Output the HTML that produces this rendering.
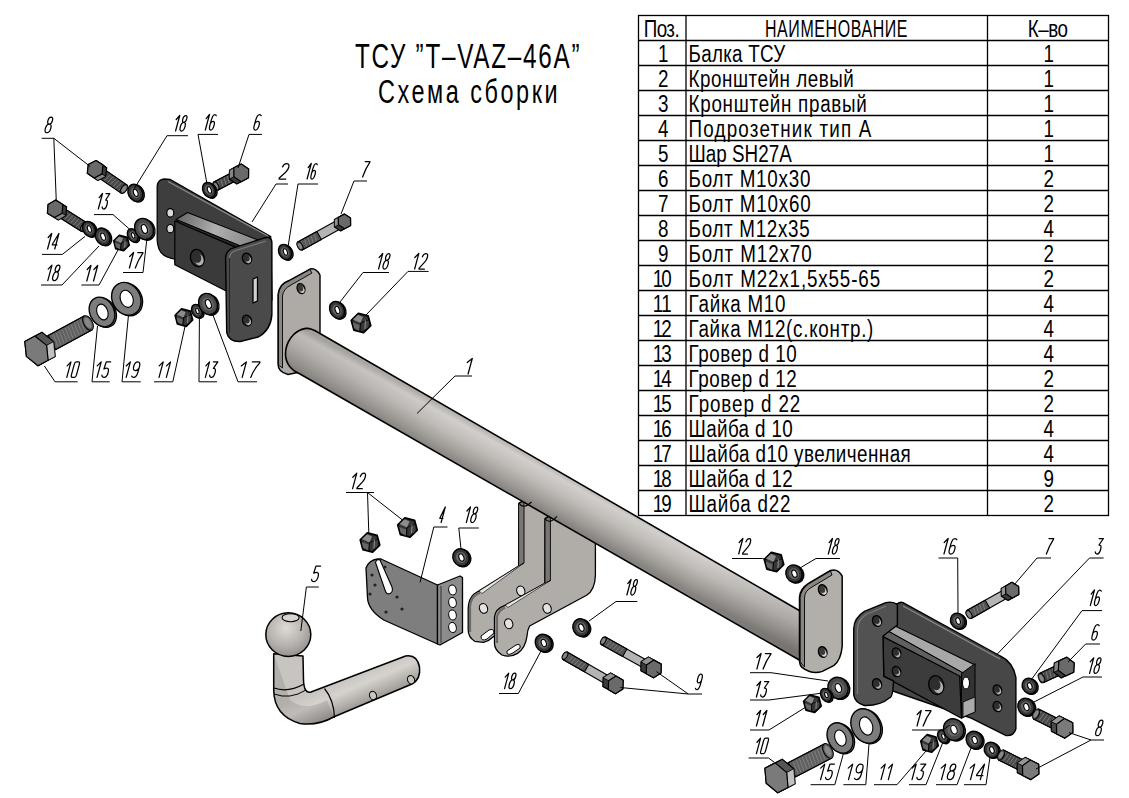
<!DOCTYPE html>
<html><head><meta charset="utf-8"><style>
html,body{margin:0;padding:0;background:#fff;width:1129px;height:798px;overflow:hidden}
svg{display:block}
</style></head><body>
<svg width="1129" height="798" viewBox="0 0 1129 798">
<defs>
<linearGradient id="tubeG" gradientUnits="userSpaceOnUse" x1="551" y1="466" x2="530" y2="504">
<stop offset="0" stop-color="#b4b0ac"/><stop offset="0.15" stop-color="#d2cecb"/><stop offset="0.45" stop-color="#c0bcb8"/><stop offset="0.8" stop-color="#9e9a96"/><stop offset="1" stop-color="#878380"/>
</linearGradient>
<linearGradient id="tubeL" gradientUnits="userSpaceOnUse" x1="290" y1="340" x2="800" y2="630">
<stop offset="0" stop-color="#000" stop-opacity="0.10"/><stop offset="0.3" stop-color="#000" stop-opacity="0"/><stop offset="0.8" stop-color="#000" stop-opacity="0"/><stop offset="1" stop-color="#000" stop-opacity="0.12"/>
</linearGradient>
<linearGradient id="chanTopL" gradientUnits="userSpaceOnUse" x1="180" y1="215" x2="250" y2="243">
<stop offset="0" stop-color="#6a6a6a"/><stop offset="0.5" stop-color="#b0b0b0"/><stop offset="1" stop-color="#8a8a8a"/>
</linearGradient>
<linearGradient id="chanTopR" gradientUnits="userSpaceOnUse" x1="890" y1="624" x2="970" y2="668">
<stop offset="0" stop-color="#7a7a7a"/><stop offset="0.5" stop-color="#b8b8b8"/><stop offset="1" stop-color="#9a9a9a"/>
</linearGradient>
<radialGradient id="ballG" cx="0.45" cy="0.35" r="0.7">
<stop offset="0" stop-color="#dedad6"/><stop offset="0.6" stop-color="#b4b0ac"/><stop offset="1" stop-color="#8e8a86"/>
</radialGradient>
<linearGradient id="barG" gradientUnits="userSpaceOnUse" x1="360" y1="672" x2="372" y2="700">
<stop offset="0" stop-color="#c8c4c0"/><stop offset="0.4" stop-color="#d6d2ce"/><stop offset="1" stop-color="#a09c98"/>
</linearGradient>
<linearGradient id="neckG" gradientUnits="userSpaceOnUse" x1="273" y1="0" x2="304" y2="0">
<stop offset="0" stop-color="#a09c98"/><stop offset="0.5" stop-color="#c4c0bc"/><stop offset="1" stop-color="#a8a4a0"/>
</linearGradient>
</defs>
<path d="M157.2,186 Q158,179.5 164,179 L170.3,179.5 L270.7,236.6 L272,300 L175,262 L174.8,259.1 Q162,257 159,249 Q157.2,244 157.2,240 Z" fill="#3e3e3e" stroke="#000" stroke-width="1.3" stroke-linejoin="round" />
<polyline points="168.0,181.5 268.0,236.0" fill="none" stroke="#8a8a8a" stroke-width="1.2" stroke-linejoin="miter"/>
<ellipse cx="170.3" cy="212.9" rx="3.5" ry="4.2" fill="#d8d8d8" stroke="#000" stroke-width="1.2"/>
<ellipse cx="170.3" cy="228.7" rx="3.5" ry="4.2" fill="#d8d8d8" stroke="#000" stroke-width="1.2"/>
<polygon points="176.0,219.5 187.5,212.5 258.0,240.0 244.0,247.5" fill="url(#chanTopL)" stroke="#000" stroke-width="1.1" stroke-linejoin="round" />
<polygon points="176.0,219.5 244.0,247.5 248.0,252.0 180.0,224.0" fill="#2a2a2a" stroke="#000" stroke-width="0.8" stroke-linejoin="round" />
<polygon points="174.8,221.0 236.0,247.5 236.0,296.0 174.8,264.8" fill="#3a3a3a" stroke="#000" stroke-width="1.2" stroke-linejoin="round" />
<ellipse cx="197.4" cy="258.0" rx="6.8" ry="8.8" fill="#2e2e2e" stroke="#000" stroke-width="1.3" transform="rotate(-15.0 197.4 258.0)"/>
<ellipse cx="199.1" cy="259.8" rx="4.4" ry="5.7" fill="#b0b0b0" stroke="none" stroke-width="0" transform="rotate(-15.0 199.1 259.8)"/>
<ellipse cx="197.1" cy="257.6" rx="4.1" ry="5.3" fill="#2e2e2e" stroke="none" stroke-width="0" transform="rotate(-15.0 197.1 257.6)"/>
<path d="M225.6,258 Q226,250 233.5,247.9 L265.1,237.7 Q271.9,236.5 271.9,243 L271.9,314.4 Q271,330 258.3,337 L240.3,341.5 Q229,342 226.7,332.5 Z" fill="#4a4a4a" stroke="#000" stroke-width="1.4" stroke-linejoin="round" />
<path d="M229.5,258 Q230,252 236,250.5 L266,241" fill="none" stroke="#7a7a7a" stroke-width="1.2" stroke-linejoin="round" />
<polyline points="229.5,258.0 229.5,333.0" fill="none" stroke="#222" stroke-width="1.0" stroke-linejoin="miter"/>
<ellipse cx="247.0" cy="258.5" rx="4.5" ry="5.5" fill="#2e2e2e" stroke="#000" stroke-width="1.3" transform="rotate(-20.0 247.0 258.5)"/>
<ellipse cx="248.1" cy="259.6" rx="2.9" ry="3.6" fill="#b0b0b0" stroke="none" stroke-width="0" transform="rotate(-20.0 248.1 259.6)"/>
<ellipse cx="246.8" cy="258.2" rx="2.7" ry="3.3" fill="#2e2e2e" stroke="none" stroke-width="0" transform="rotate(-20.0 246.8 258.2)"/>
<ellipse cx="247.0" cy="320.5" rx="4.5" ry="5.5" fill="#2e2e2e" stroke="#000" stroke-width="1.3" transform="rotate(-20.0 247.0 320.5)"/>
<ellipse cx="248.1" cy="321.6" rx="2.9" ry="3.6" fill="#b0b0b0" stroke="none" stroke-width="0" transform="rotate(-20.0 248.1 321.6)"/>
<ellipse cx="246.8" cy="320.2" rx="2.7" ry="3.3" fill="#2e2e2e" stroke="none" stroke-width="0" transform="rotate(-20.0 246.8 320.2)"/>
<polygon points="253.0,279.0 257.5,277.0 257.5,301.0 253.0,303.0" fill="#d0d0d0" stroke="#000" stroke-width="1.3" stroke-linejoin="round" />
<path d="M278,294.6 Q279,284 289,280.5 L310,269 Q316,267.5 320,275 L320,336 L300,372 L288,374.5 Q278,372 278,364 Z" fill="#aeaaa6" stroke="#000" stroke-width="1.4" stroke-linejoin="round" />
<path d="M278.5,365 L278.5,294.6 Q279.5,284.5 289,281 L310,269.5 L312,273 L291,285 Q283,289 282.5,296 L282.5,368 Z" fill="#8a8682" stroke="#000" stroke-width="0.9" stroke-linejoin="round" />
<ellipse cx="301.0" cy="288.6" rx="3.8" ry="5.2" fill="#3a3a3a" stroke="#000" stroke-width="1.3" transform="rotate(-20.0 301.0 288.6)"/>
<ellipse cx="301.9" cy="289.6" rx="2.5" ry="3.4" fill="#d0d0d0" stroke="none" stroke-width="0" transform="rotate(-20.0 301.9 289.6)"/>
<ellipse cx="300.8" cy="288.3" rx="2.3" ry="3.1" fill="#3a3a3a" stroke="none" stroke-width="0" transform="rotate(-20.0 300.8 288.3)"/>
<path d="M519,503 L525,499.5 L531.5,502 L560,520 L560,590 L493,637 Q489,641 483.5,642.4 L474.7,641.3 Q468.2,637 468.2,630 L468.2,608.4 Q468.5,599 474,594 L479.1,590.9 L518.6,566 Z" fill="#b0aca8" stroke="#000" stroke-width="1.3" stroke-linejoin="round" />
<polygon points="518.6,503.5 524.0,501.0 524.0,563.0 518.6,566.0" fill="#7a7673" stroke="#000" stroke-width="0.9" stroke-linejoin="round" />
<path d="M470,632 L470,606 Q471,597 478,593.5 L480,593" fill="none" stroke="#6e6a66" stroke-width="2.2" stroke-linejoin="round" />
<polygon points="479.0,591.0 518.6,566.0 524.0,563.0 482.0,593.5" fill="#e8e6e4" stroke="#000" stroke-width="0.6" stroke-linejoin="round" />
<ellipse cx="483.5" cy="608.4" rx="4.0" ry="5.0" fill="#e4e4e4" stroke="#000" stroke-width="1.1" transform="rotate(-20.0 483.5 608.4)"/>
<ellipse cx="520.8" cy="590.9" rx="4.0" ry="5.0" fill="#e4e4e4" stroke="#000" stroke-width="1.1" transform="rotate(-20.0 520.8 590.9)"/>
<path d="M481,636 L489,630 Q494,628 494,633 L487,639 Q481,642 481,636 Z" fill="#fff" stroke="#000" stroke-width="1.0" stroke-linejoin="round" />
<path d="M545,518.5 L551.5,514 L557,516.3 L595.4,540 L595.4,575.5 Q595,590 586.6,595.3 L529.6,626 Q527.4,630 527,636 Q525.5,648 517.5,653.4 Q510,658 502,655 Q494.5,650 494.5,643.5 L494.5,617.2 Q495,609 505.4,605.1 L544.9,583.2 Z" fill="#b0aca8" stroke="#000" stroke-width="1.3" stroke-linejoin="round" />
<polygon points="545.0,519.0 550.4,516.0 550.4,580.5 545.0,583.5" fill="#7a7673" stroke="#000" stroke-width="0.9" stroke-linejoin="round" />
<path d="M497,643 L497,617 Q498,611 505,607.5" fill="none" stroke="#6e6a66" stroke-width="2.2" stroke-linejoin="round" />
<polygon points="505.4,605.1 544.9,583.2 550.4,580.5 508.0,607.5" fill="#e8e6e4" stroke="#000" stroke-width="0.6" stroke-linejoin="round" />
<ellipse cx="508.7" cy="623.8" rx="4.0" ry="5.0" fill="#e4e4e4" stroke="#000" stroke-width="1.1" transform="rotate(-20.0 508.7 623.8)"/>
<ellipse cx="547.1" cy="608.4" rx="4.0" ry="5.0" fill="#e4e4e4" stroke="#000" stroke-width="1.1" transform="rotate(-20.0 547.1 608.4)"/>
<path d="M507,651 L516,645 Q521,643 520,648 L512,653.5 Q506,656 507,651 Z" fill="#fff" stroke="#000" stroke-width="1.0" stroke-linejoin="round" />
<path d="M320,333.5 L801,611.5 L801,661 L300,374 C292,371 285.5,364 285.5,354 C285.5,342 294,330 306,328.4 C311,327.8 315,330.5 320,333.5 Z" fill="url(#tubeG)" stroke="#000" stroke-width="1.6" stroke-linejoin="round" />
<path d="M320,333.5 L801,611.5 L801,661 L300,374 C292,371 285.5,364 285.5,354 C285.5,342 294,330 306,328.4 C311,327.8 315,330.5 320,333.5 Z" fill="url(#tubeL)" stroke="none" stroke-width="0" stroke-linejoin="round" />
<path d="M519,503 Q523,510 531.5,502" fill="none" stroke="#000" stroke-width="1.1" stroke-linejoin="round" />
<path d="M545,518.5 Q549,525 557,516.3" fill="none" stroke="#000" stroke-width="1.1" stroke-linejoin="round" />
<path d="M799.5,597.3 Q800,589 808.5,583.5 L830.5,570.5 Q838,568 842.2,576.2 L842.2,646.2 Q841,660 833.7,665.7 L822.3,671.4 Q812,675 802,667.4 Q799.5,665 799.5,660 Z" fill="#b2aea9" stroke="#000" stroke-width="1.5" stroke-linejoin="round" />
<path d="M800.2,662 L800.2,597.3 Q801,589.5 808.5,584 L830.5,571 L832,575 L812,587 Q804.5,591 804.5,598 L804.5,667 Z" fill="#8a8682" stroke="#000" stroke-width="0.9" stroke-linejoin="round" />
<ellipse cx="822.7" cy="590.0" rx="4.2" ry="5.5" fill="#3a3a3a" stroke="#000" stroke-width="1.3" transform="rotate(-20.0 822.7 590.0)"/>
<ellipse cx="823.8" cy="591.1" rx="2.7" ry="3.6" fill="#d0d0d0" stroke="none" stroke-width="0" transform="rotate(-20.0 823.8 591.1)"/>
<ellipse cx="822.5" cy="589.7" rx="2.5" ry="3.3" fill="#3a3a3a" stroke="none" stroke-width="0" transform="rotate(-20.0 822.5 589.7)"/>
<ellipse cx="822.7" cy="652.0" rx="4.2" ry="5.5" fill="#3a3a3a" stroke="#000" stroke-width="1.3" transform="rotate(-20.0 822.7 652.0)"/>
<ellipse cx="823.8" cy="653.1" rx="2.7" ry="3.6" fill="#d0d0d0" stroke="none" stroke-width="0" transform="rotate(-20.0 823.8 653.1)"/>
<ellipse cx="822.5" cy="651.7" rx="2.5" ry="3.3" fill="#3a3a3a" stroke="none" stroke-width="0" transform="rotate(-20.0 822.5 651.7)"/>
<path d="M366,568 Q369,560 377.5,559 L381,559 L437.5,585 L437.5,644 L383.75,620 Q368,610 367.5,597.5 Z" fill="#7e7e7e" stroke="#000" stroke-width="1.3" stroke-linejoin="round" />
<path d="M375.5,562.5 Q377,558.5 380,560 L392,587 Q393.5,592 390,593.5 Q386.5,595 385,590 Z" fill="#fff" stroke="#000" stroke-width="1.1" stroke-linejoin="round" />
<circle cx="372" cy="575" r="1.6" fill="#222"/>
<circle cx="385" cy="567" r="1.6" fill="#222"/>
<circle cx="370" cy="594" r="1.6" fill="#222"/>
<circle cx="397" cy="597" r="1.6" fill="#222"/>
<circle cx="386" cy="612" r="1.6" fill="#222"/>
<circle cx="402" cy="609" r="1.6" fill="#222"/>
<circle cx="375" cy="585" r="1.6" fill="#222"/>
<polygon points="437.5,585.0 460.0,576.0 462.5,577.5 462.5,632.5 440.0,645.0 437.5,644.0" fill="#8c8c8c" stroke="#000" stroke-width="1.3" stroke-linejoin="round" />
<polyline points="441.0,586.0 441.0,643.0" fill="none" stroke="#333" stroke-width="1.0" stroke-linejoin="miter"/>
<ellipse cx="452.5" cy="590.0" rx="3.8" ry="5.0" fill="#fff" stroke="#000" stroke-width="1.0" transform="rotate(-10.0 452.5 590.0)"/>
<ellipse cx="452.5" cy="602.5" rx="3.8" ry="5.0" fill="#fff" stroke="#000" stroke-width="1.0" transform="rotate(-10.0 452.5 602.5)"/>
<ellipse cx="452.5" cy="615.0" rx="3.8" ry="5.0" fill="#fff" stroke="#000" stroke-width="1.0" transform="rotate(-10.0 452.5 615.0)"/>
<ellipse cx="452.5" cy="627.5" rx="3.8" ry="5.0" fill="#fff" stroke="#000" stroke-width="1.0" transform="rotate(-10.0 452.5 627.5)"/>
<path d="M273.7,653.8 L273.7,690 Q274,716 300,723.5 Q318,726 333.5,717 L412,684 Q421,679 419.5,667 Q417,654 405.6,656 L311,692 Q304,694 303.5,680 L303,656 Z" fill="url(#barG)" stroke="#000" stroke-width="1.5" stroke-linejoin="round" />
<path d="M273.7,653.8 L273.7,690 Q274,716 300,723.5 Q318,726 333.5,717 L327,700 Q305,712 290,700 Z" fill="#000" stroke="none" stroke-width="0" stroke-linejoin="round" opacity="0.10"/>
<path d="M324.5,688.5 Q334,700 334.5,718" fill="none" stroke="#000" stroke-width="1.2" stroke-linejoin="round" />
<path d="M274,688 Q288,693 304,684" fill="none" stroke="#000" stroke-width="1.2" stroke-linejoin="round" />
<path d="M274,694 Q290,700 306,690" fill="none" stroke="#000" stroke-width="1.0" stroke-linejoin="round" />
<ellipse cx="373.0" cy="695.5" rx="3.5" ry="4.2" fill="#c8c4c0" stroke="#000" stroke-width="1.0" transform="rotate(-20.0 373.0 695.5)"/>
<ellipse cx="411.0" cy="679.7" rx="3.5" ry="4.2" fill="#c8c4c0" stroke="#000" stroke-width="1.0" transform="rotate(-20.0 411.0 679.7)"/>
<ellipse cx="288.3" cy="634.6" rx="22.5" ry="21.8" fill="url(#ballG)" stroke="#000" stroke-width="1.5"/>
<ellipse cx="290.6" cy="617.7" rx="8.5" ry="4.0" fill="#d8d4d0" stroke="#000" stroke-width="1.1"/>
<path d="M897,604 Q900,601.5 903,602.6 L1000.3,656 Q1013,662 1015.9,677.4 L1015.9,728.8 Q1014,736 1006.2,735.6 L971.2,718.2 L890,690 L890,605 Z" fill="#474747" stroke="#000" stroke-width="1.4" stroke-linejoin="round" />
<polyline points="903.0,606.0 1000.0,659.0" fill="none" stroke="#8a8a8a" stroke-width="1.2" stroke-linejoin="miter"/>
<ellipse cx="997.4" cy="690.0" rx="4.2" ry="5.2" fill="#2e2e2e" stroke="#000" stroke-width="1.3" transform="rotate(-20.0 997.4 690.0)"/>
<ellipse cx="998.4" cy="691.0" rx="2.7" ry="3.4" fill="#b0b0b0" stroke="none" stroke-width="0" transform="rotate(-20.0 998.4 691.0)"/>
<ellipse cx="997.2" cy="689.7" rx="2.5" ry="3.1" fill="#2e2e2e" stroke="none" stroke-width="0" transform="rotate(-20.0 997.2 689.7)"/>
<ellipse cx="997.4" cy="706.5" rx="4.2" ry="5.2" fill="#2e2e2e" stroke="#000" stroke-width="1.3" transform="rotate(-20.0 997.4 706.5)"/>
<ellipse cx="998.4" cy="707.5" rx="2.7" ry="3.4" fill="#b0b0b0" stroke="none" stroke-width="0" transform="rotate(-20.0 998.4 707.5)"/>
<ellipse cx="997.2" cy="706.2" rx="2.5" ry="3.1" fill="#2e2e2e" stroke="none" stroke-width="0" transform="rotate(-20.0 997.2 706.2)"/>
<polygon points="890.0,623.5 975.0,665.0 963.0,673.0 887.0,630.5" fill="#a8a8a8" stroke="#000" stroke-width="1.1" stroke-linejoin="round" />
<polygon points="887.0,630.5 963.0,673.0 959.0,679.5 883.5,637.0" fill="#606060" stroke="#000" stroke-width="1.0" stroke-linejoin="round" />
<polygon points="961.5,673.5 975.0,663.5 975.0,712.0 961.5,718.2" fill="#333" stroke="#000" stroke-width="1.0" stroke-linejoin="round" />
<ellipse cx="966.0" cy="683.0" rx="3.5" ry="6.0" fill="#fff" stroke="#000" stroke-width="1"/>
<polygon points="963.0,702.0 975.0,697.0 975.0,712.0 963.0,717.0" fill="#aaa" stroke="#000" stroke-width="0.8" stroke-linejoin="round" />
<polygon points="882.9,636.6 959.6,676.0 961.5,718.2 883.8,676.4" fill="#3c3c3c" stroke="#000" stroke-width="1.2" stroke-linejoin="round" />
<ellipse cx="936.3" cy="685.1" rx="7.5" ry="9.5" fill="#2e2e2e" stroke="#000" stroke-width="1.3" transform="rotate(-15.0 936.3 685.1)"/>
<ellipse cx="938.2" cy="687.0" rx="4.9" ry="6.2" fill="#b0b0b0" stroke="none" stroke-width="0" transform="rotate(-15.0 938.2 687.0)"/>
<ellipse cx="935.9" cy="684.6" rx="4.5" ry="5.7" fill="#2e2e2e" stroke="none" stroke-width="0" transform="rotate(-15.0 935.9 684.6)"/>
<ellipse cx="896.5" cy="653.0" rx="4.2" ry="5.2" fill="#2e2e2e" stroke="#000" stroke-width="1.3" transform="rotate(-20.0 896.5 653.0)"/>
<ellipse cx="897.5" cy="654.0" rx="2.7" ry="3.4" fill="#b0b0b0" stroke="none" stroke-width="0" transform="rotate(-20.0 897.5 654.0)"/>
<ellipse cx="896.3" cy="652.7" rx="2.5" ry="3.1" fill="#2e2e2e" stroke="none" stroke-width="0" transform="rotate(-20.0 896.3 652.7)"/>
<ellipse cx="896.5" cy="671.6" rx="4.2" ry="5.2" fill="#2e2e2e" stroke="#000" stroke-width="1.3" transform="rotate(-20.0 896.5 671.6)"/>
<ellipse cx="897.5" cy="672.6" rx="2.7" ry="3.4" fill="#b0b0b0" stroke="none" stroke-width="0" transform="rotate(-20.0 897.5 672.6)"/>
<ellipse cx="896.3" cy="671.3" rx="2.5" ry="3.1" fill="#2e2e2e" stroke="none" stroke-width="0" transform="rotate(-20.0 896.3 671.3)"/>
<path d="M853.7,628.8 Q854,618 864.4,611.4 L885.8,602.6 Q893,601 897.4,604.6 L897.4,625 L883,636 L883.8,676.4 L893.5,681 Q893,697 889.7,697.8 Q880,706 864.4,705.5 Q855,703 853.7,694.9 Z" fill="#525252" stroke="#000" stroke-width="1.4" stroke-linejoin="round" />
<path d="M857.5,694 L857.5,629 Q858,620 866,614.5 L886,606" fill="none" stroke="#7a7a7a" stroke-width="1.3" stroke-linejoin="round" />
<ellipse cx="877.0" cy="621.0" rx="4.5" ry="5.5" fill="#2e2e2e" stroke="#000" stroke-width="1.3" transform="rotate(-20.0 877.0 621.0)"/>
<ellipse cx="878.1" cy="622.1" rx="2.9" ry="3.6" fill="#b0b0b0" stroke="none" stroke-width="0" transform="rotate(-20.0 878.1 622.1)"/>
<ellipse cx="876.8" cy="620.7" rx="2.7" ry="3.3" fill="#2e2e2e" stroke="none" stroke-width="0" transform="rotate(-20.0 876.8 620.7)"/>
<ellipse cx="877.0" cy="684.0" rx="4.5" ry="5.5" fill="#2e2e2e" stroke="#000" stroke-width="1.3" transform="rotate(-20.0 877.0 684.0)"/>
<ellipse cx="878.1" cy="685.1" rx="2.9" ry="3.6" fill="#b0b0b0" stroke="none" stroke-width="0" transform="rotate(-20.0 878.1 685.1)"/>
<ellipse cx="876.8" cy="683.7" rx="2.7" ry="3.3" fill="#2e2e2e" stroke="none" stroke-width="0" transform="rotate(-20.0 876.8 683.7)"/>
<polygon points="94.2,174.6 121.2,193.1 126.8,184.9 99.8,166.4" fill="#8a8a8a" stroke="#000" stroke-width="1.1" stroke-linejoin="round" />
<polygon points="98.2,177.4 121.2,193.1 126.8,184.9 103.9,169.2" fill="#4a4a4a" stroke="#000" stroke-width="1.1" stroke-linejoin="round" />
<polyline points="101.7,178.5 107.4,172.8" fill="none" stroke="#8e8e8e" stroke-width="0.7" stroke-linejoin="miter"/>
<polyline points="104.5,180.5 110.3,174.8" fill="none" stroke="#8e8e8e" stroke-width="0.7" stroke-linejoin="miter"/>
<polyline points="107.4,182.5 113.2,176.7" fill="none" stroke="#8e8e8e" stroke-width="0.7" stroke-linejoin="miter"/>
<polyline points="110.3,184.4 116.0,178.7" fill="none" stroke="#8e8e8e" stroke-width="0.7" stroke-linejoin="miter"/>
<polyline points="113.1,186.4 118.9,180.7" fill="none" stroke="#8e8e8e" stroke-width="0.7" stroke-linejoin="miter"/>
<polyline points="116.0,188.4 121.8,182.6" fill="none" stroke="#8e8e8e" stroke-width="0.7" stroke-linejoin="miter"/>
<polyline points="118.9,190.3 124.6,184.6" fill="none" stroke="#8e8e8e" stroke-width="0.7" stroke-linejoin="miter"/>
<ellipse cx="124.0" cy="189.0" rx="2.8" ry="5.0" fill="#4a4a4a" stroke="#000" stroke-width="1.0" transform="rotate(34.4 124.0 189.0)"/>
<ellipse cx="124.0" cy="189.0" rx="1.8" ry="3.5" fill="#888" stroke="none" stroke-width="0" transform="rotate(34.4 124.0 189.0)"/>
<polygon points="87.3,173.3 88.3,164.5 96.1,160.5 103.0,165.1 106.7,167.7 105.7,176.5 97.9,180.5 94.2,178.0" fill="#3a3a3a" stroke="#000" stroke-width="1.2" stroke-linejoin="round" />
<polyline points="94.2,178.0 97.9,180.5" fill="none" stroke="#000" stroke-width="0.8" stroke-linejoin="miter"/>
<polyline points="102.0,173.9 105.7,176.5" fill="none" stroke="#000" stroke-width="0.8" stroke-linejoin="miter"/>
<polyline points="103.0,165.1 106.7,167.7" fill="none" stroke="#000" stroke-width="0.8" stroke-linejoin="miter"/>
<polyline points="96.1,160.5 99.8,163.0" fill="none" stroke="#000" stroke-width="0.8" stroke-linejoin="miter"/>
<polyline points="88.3,164.5 92.0,167.1" fill="none" stroke="#000" stroke-width="0.8" stroke-linejoin="miter"/>
<polyline points="87.3,173.3 91.0,175.9" fill="none" stroke="#000" stroke-width="0.8" stroke-linejoin="miter"/>
<polygon points="94.2,178.0 102.0,173.9 105.7,176.5 97.9,180.5" fill="#9a9a9a" stroke="#000" stroke-width="0.7" stroke-linejoin="round" opacity="0.8"/>
<polygon points="94.2,178.0 102.0,173.9 103.0,165.1 96.1,160.5 88.3,164.5 87.3,173.3" fill="#6a6a6a" stroke="#000" stroke-width="1.2" stroke-linejoin="round" />
<ellipse cx="136.9" cy="193.4" rx="7.0" ry="9.0" fill="#383838" stroke="#000" stroke-width="1.3" transform="rotate(-28.0 136.9 193.4)"/>
<ellipse cx="135.3" cy="192.8" rx="7.0" ry="9.0" fill="#383838" stroke="#000" stroke-width="1.4" transform="rotate(-28.0 135.3 192.8)"/>
<ellipse cx="135.3" cy="192.8" rx="4.3" ry="5.6" fill="#666" stroke="none" stroke-width="0" transform="rotate(-28.0 135.3 192.8)"/>
<ellipse cx="135.7" cy="192.8" rx="2.1" ry="3.8" fill="#fff" stroke="#000" stroke-width="1.1" transform="rotate(-20.0 135.7 192.8)"/>
<polygon points="54.3,214.2 81.3,231.2 86.7,222.8 59.7,205.8" fill="#8a8a8a" stroke="#000" stroke-width="1.1" stroke-linejoin="round" />
<polygon points="58.4,216.8 81.3,231.2 86.7,222.8 63.7,208.3" fill="#4a4a4a" stroke="#000" stroke-width="1.1" stroke-linejoin="round" />
<polyline points="61.8,217.7 67.3,211.8" fill="none" stroke="#8e8e8e" stroke-width="0.7" stroke-linejoin="miter"/>
<polyline points="64.7,219.5 70.2,213.6" fill="none" stroke="#8e8e8e" stroke-width="0.7" stroke-linejoin="miter"/>
<polyline points="67.5,221.4 73.1,215.4" fill="none" stroke="#8e8e8e" stroke-width="0.7" stroke-linejoin="miter"/>
<polyline points="70.4,223.2 75.9,217.2" fill="none" stroke="#8e8e8e" stroke-width="0.7" stroke-linejoin="miter"/>
<polyline points="73.3,225.0 78.8,219.0" fill="none" stroke="#8e8e8e" stroke-width="0.7" stroke-linejoin="miter"/>
<polyline points="76.1,226.8 81.7,220.8" fill="none" stroke="#8e8e8e" stroke-width="0.7" stroke-linejoin="miter"/>
<polyline points="79.0,228.6 84.5,222.6" fill="none" stroke="#8e8e8e" stroke-width="0.7" stroke-linejoin="miter"/>
<ellipse cx="84.0" cy="227.0" rx="2.8" ry="5.0" fill="#4a4a4a" stroke="#000" stroke-width="1.0" transform="rotate(32.2 84.0 227.0)"/>
<ellipse cx="84.0" cy="227.0" rx="1.8" ry="3.5" fill="#888" stroke="none" stroke-width="0" transform="rotate(32.2 84.0 227.0)"/>
<polygon points="47.4,213.2 48.1,204.4 55.7,200.0 62.8,204.4 66.6,206.8 65.9,215.6 58.3,220.0 51.2,215.6" fill="#3a3a3a" stroke="#000" stroke-width="1.2" stroke-linejoin="round" />
<polyline points="54.4,217.6 58.3,220.0" fill="none" stroke="#000" stroke-width="0.8" stroke-linejoin="miter"/>
<polyline points="62.1,213.2 65.9,215.6" fill="none" stroke="#000" stroke-width="0.8" stroke-linejoin="miter"/>
<polyline points="62.8,204.4 66.6,206.8" fill="none" stroke="#000" stroke-width="0.8" stroke-linejoin="miter"/>
<polyline points="55.7,200.0 59.6,202.4" fill="none" stroke="#000" stroke-width="0.8" stroke-linejoin="miter"/>
<polyline points="48.1,204.4 51.9,206.8" fill="none" stroke="#000" stroke-width="0.8" stroke-linejoin="miter"/>
<polyline points="47.4,213.2 51.2,215.6" fill="none" stroke="#000" stroke-width="0.8" stroke-linejoin="miter"/>
<polygon points="54.4,217.6 62.1,213.2 65.9,215.6 58.3,220.0" fill="#9a9a9a" stroke="#000" stroke-width="0.7" stroke-linejoin="round" opacity="0.8"/>
<polygon points="54.4,217.6 62.1,213.2 62.8,204.4 55.7,200.0 48.1,204.4 47.4,213.2" fill="#6a6a6a" stroke="#000" stroke-width="1.2" stroke-linejoin="round" />
<ellipse cx="90.6" cy="229.6" rx="6.0" ry="8.0" fill="#383838" stroke="#000" stroke-width="1.3" transform="rotate(-28.0 90.6 229.6)"/>
<ellipse cx="89.0" cy="229.0" rx="6.0" ry="8.0" fill="#383838" stroke="#000" stroke-width="1.4" transform="rotate(-28.0 89.0 229.0)"/>
<ellipse cx="89.0" cy="229.0" rx="3.7" ry="5.0" fill="#666" stroke="none" stroke-width="0" transform="rotate(-28.0 89.0 229.0)"/>
<ellipse cx="89.4" cy="229.0" rx="1.8" ry="3.4" fill="#fff" stroke="#000" stroke-width="1.1" transform="rotate(-20.0 89.4 229.0)"/>
<ellipse cx="104.3" cy="237.3" rx="7.0" ry="9.0" fill="#383838" stroke="#000" stroke-width="1.3" transform="rotate(-28.0 104.3 237.3)"/>
<ellipse cx="102.7" cy="236.7" rx="7.0" ry="9.0" fill="#383838" stroke="#000" stroke-width="1.4" transform="rotate(-28.0 102.7 236.7)"/>
<ellipse cx="102.7" cy="236.7" rx="4.3" ry="5.6" fill="#666" stroke="none" stroke-width="0" transform="rotate(-28.0 102.7 236.7)"/>
<ellipse cx="103.1" cy="236.7" rx="2.1" ry="3.8" fill="#fff" stroke="#000" stroke-width="1.1" transform="rotate(-20.0 103.1 236.7)"/>
<polygon points="129.2,245.1 123.6,250.7 115.8,248.7 113.8,240.9 119.4,235.3 127.2,237.3" fill="#353535" stroke="#000" stroke-width="1.8" stroke-linejoin="round" />
<polygon points="115.1,240.2 119.1,236.4 123.1,238.2 121.1,243.0" fill="#8c8c8c" stroke="none" stroke-width="0" stroke-linejoin="round" />
<polygon points="114.9,242.6 120.7,244.8 120.3,249.6 115.9,247.0" fill="#666" stroke="none" stroke-width="0" stroke-linejoin="round" />
<polygon points="123.9,239.4 127.7,241.4 127.1,246.6 123.5,248.6" fill="#444" stroke="none" stroke-width="0" stroke-linejoin="round" />
<polyline points="121.1,243.0 120.5,249.8" fill="none" stroke="#000" stroke-width="1.0" stroke-linejoin="miter"/>
<polyline points="121.1,243.0 127.5,240.6" fill="none" stroke="#000" stroke-width="0.8" stroke-linejoin="miter"/>
<polyline points="125.1,241.0 124.7,247.8" fill="none" stroke="#999" stroke-width="0.8" stroke-linejoin="miter"/>
<ellipse cx="134.4" cy="236.0" rx="5.0" ry="7.0" fill="#383838" stroke="#000" stroke-width="1.3" transform="rotate(-28.0 134.4 236.0)"/>
<ellipse cx="132.8" cy="235.4" rx="5.0" ry="7.0" fill="#383838" stroke="#000" stroke-width="1.4" transform="rotate(-28.0 132.8 235.4)"/>
<ellipse cx="132.8" cy="235.4" rx="3.1" ry="4.3" fill="#666" stroke="none" stroke-width="0" transform="rotate(-28.0 132.8 235.4)"/>
<ellipse cx="133.2" cy="235.4" rx="1.5" ry="2.9" fill="#fff" stroke="#000" stroke-width="1.1" transform="rotate(-20.0 133.2 235.4)"/>
<ellipse cx="145.6" cy="229.6" rx="9.0" ry="11.0" fill="#4a4a4a" stroke="#000" stroke-width="1.3" transform="rotate(-28.0 145.6 229.6)"/>
<ellipse cx="144.0" cy="229.0" rx="9.0" ry="11.0" fill="#4a4a4a" stroke="#000" stroke-width="1.4" transform="rotate(-28.0 144.0 229.0)"/>
<ellipse cx="144.0" cy="229.0" rx="5.6" ry="6.8" fill="#666" stroke="none" stroke-width="0" transform="rotate(-28.0 144.0 229.0)"/>
<ellipse cx="144.4" cy="229.0" rx="2.7" ry="4.6" fill="#fff" stroke="#000" stroke-width="1.1" transform="rotate(-20.0 144.4 229.0)"/>
<polygon points="43.8,356.0 91.8,330.0 84.2,316.0 36.2,342.0" fill="#bbb" stroke="#000" stroke-width="1.1" stroke-linejoin="round" />
<polygon points="55.8,349.5 91.8,330.0 84.2,316.0 48.2,335.5" fill="#606060" stroke="#000" stroke-width="1.1" stroke-linejoin="round" />
<polyline points="58.0,346.5 53.3,334.5" fill="none" stroke="#8e8e8e" stroke-width="0.7" stroke-linejoin="miter"/>
<polyline points="61.0,344.9 56.3,332.9" fill="none" stroke="#8e8e8e" stroke-width="0.7" stroke-linejoin="miter"/>
<polyline points="64.0,343.3 59.3,331.3" fill="none" stroke="#8e8e8e" stroke-width="0.7" stroke-linejoin="miter"/>
<polyline points="67.0,341.6 62.3,329.7" fill="none" stroke="#8e8e8e" stroke-width="0.7" stroke-linejoin="miter"/>
<polyline points="70.0,340.0 65.3,328.0" fill="none" stroke="#8e8e8e" stroke-width="0.7" stroke-linejoin="miter"/>
<polyline points="73.0,338.4 68.3,326.4" fill="none" stroke="#8e8e8e" stroke-width="0.7" stroke-linejoin="miter"/>
<polyline points="76.0,336.8 71.3,324.8" fill="none" stroke="#8e8e8e" stroke-width="0.7" stroke-linejoin="miter"/>
<polyline points="79.0,335.1 74.3,323.2" fill="none" stroke="#8e8e8e" stroke-width="0.7" stroke-linejoin="miter"/>
<polyline points="82.0,333.5 77.3,321.5" fill="none" stroke="#8e8e8e" stroke-width="0.7" stroke-linejoin="miter"/>
<polyline points="85.0,331.9 80.3,319.9" fill="none" stroke="#8e8e8e" stroke-width="0.7" stroke-linejoin="miter"/>
<polyline points="88.0,330.3 83.3,318.3" fill="none" stroke="#8e8e8e" stroke-width="0.7" stroke-linejoin="miter"/>
<ellipse cx="88.0" cy="323.0" rx="4.4" ry="8.0" fill="#606060" stroke="#000" stroke-width="1.0" transform="rotate(-28.4 88.0 323.0)"/>
<ellipse cx="88.0" cy="323.0" rx="2.8" ry="5.6" fill="#888" stroke="none" stroke-width="0" transform="rotate(-28.4 88.0 323.0)"/>
<polygon points="24.8,341.5 31.9,337.7 42.0,332.2 53.6,341.6 55.2,356.5 48.1,360.3 38.0,365.8 26.4,356.4" fill="#555" stroke="#000" stroke-width="1.2" stroke-linejoin="round" />
<polyline points="48.1,360.3 55.2,356.5" fill="none" stroke="#000" stroke-width="0.8" stroke-linejoin="miter"/>
<polyline points="46.6,345.4 53.6,341.6" fill="none" stroke="#000" stroke-width="0.8" stroke-linejoin="miter"/>
<polyline points="34.9,336.0 42.0,332.2" fill="none" stroke="#000" stroke-width="0.8" stroke-linejoin="miter"/>
<polyline points="24.8,341.5 31.9,337.7" fill="none" stroke="#000" stroke-width="0.8" stroke-linejoin="miter"/>
<polyline points="26.4,356.4 33.4,352.6" fill="none" stroke="#000" stroke-width="0.8" stroke-linejoin="miter"/>
<polyline points="38.0,365.8 45.1,362.0" fill="none" stroke="#000" stroke-width="0.8" stroke-linejoin="miter"/>
<polygon points="48.1,360.3 46.6,345.4 53.6,341.6 55.2,356.5" fill="#ddd" stroke="#000" stroke-width="0.7" stroke-linejoin="round" opacity="0.8"/>
<polygon points="48.1,360.3 46.6,345.4 34.9,336.0 24.8,341.5 26.4,356.4 38.0,365.8" fill="#7a7a7a" stroke="#000" stroke-width="1.2" stroke-linejoin="round" />
<ellipse cx="103.6" cy="312.6" rx="12.0" ry="15.5" fill="#7c7c7c" stroke="#000" stroke-width="1.3" transform="rotate(-28.0 103.6 312.6)"/>
<ellipse cx="102.0" cy="312.0" rx="12.0" ry="15.5" fill="#7c7c7c" stroke="#000" stroke-width="1.4" transform="rotate(-28.0 102.0 312.0)"/>
<ellipse cx="102.4" cy="312.0" rx="5.4" ry="8.1" fill="#fff" stroke="#000" stroke-width="1.1" transform="rotate(-20.0 102.4 312.0)"/>
<ellipse cx="127.9" cy="299.4" rx="14.0" ry="17.0" fill="#7c7c7c" stroke="#000" stroke-width="1.3" transform="rotate(-28.0 127.9 299.4)"/>
<ellipse cx="126.3" cy="298.8" rx="14.0" ry="17.0" fill="#7c7c7c" stroke="#000" stroke-width="1.4" transform="rotate(-28.0 126.3 298.8)"/>
<ellipse cx="126.7" cy="298.8" rx="6.3" ry="8.8" fill="#fff" stroke="#000" stroke-width="1.1" transform="rotate(-20.0 126.7 298.8)"/>
<polygon points="192.6,319.9 186.2,326.3 177.5,324.0 175.2,315.3 181.6,308.9 190.3,311.2" fill="#353535" stroke="#000" stroke-width="1.8" stroke-linejoin="round" />
<polygon points="176.7,314.5 181.2,310.2 185.7,312.2 183.5,317.6" fill="#8c8c8c" stroke="none" stroke-width="0" stroke-linejoin="round" />
<polygon points="176.5,317.2 183.0,319.6 182.6,325.0 177.6,322.1" fill="#666" stroke="none" stroke-width="0" stroke-linejoin="round" />
<polygon points="186.6,313.6 190.9,315.8 190.2,321.7 186.2,323.9" fill="#444" stroke="none" stroke-width="0" stroke-linejoin="round" />
<polyline points="183.5,317.6 182.8,325.2" fill="none" stroke="#000" stroke-width="1.0" stroke-linejoin="miter"/>
<polyline points="183.5,317.6 190.7,314.9" fill="none" stroke="#000" stroke-width="0.8" stroke-linejoin="miter"/>
<polyline points="188.0,315.4 187.5,323.0" fill="none" stroke="#999" stroke-width="0.8" stroke-linejoin="miter"/>
<ellipse cx="198.6" cy="311.6" rx="5.0" ry="7.0" fill="#383838" stroke="#000" stroke-width="1.3" transform="rotate(-28.0 198.6 311.6)"/>
<ellipse cx="197.0" cy="311.0" rx="5.0" ry="7.0" fill="#383838" stroke="#000" stroke-width="1.4" transform="rotate(-28.0 197.0 311.0)"/>
<ellipse cx="197.0" cy="311.0" rx="3.1" ry="4.3" fill="#666" stroke="none" stroke-width="0" transform="rotate(-28.0 197.0 311.0)"/>
<ellipse cx="197.4" cy="311.0" rx="1.5" ry="2.9" fill="#fff" stroke="#000" stroke-width="1.1" transform="rotate(-20.0 197.4 311.0)"/>
<ellipse cx="209.6" cy="304.6" rx="9.0" ry="11.0" fill="#4a4a4a" stroke="#000" stroke-width="1.3" transform="rotate(-28.0 209.6 304.6)"/>
<ellipse cx="208.0" cy="304.0" rx="9.0" ry="11.0" fill="#4a4a4a" stroke="#000" stroke-width="1.4" transform="rotate(-28.0 208.0 304.0)"/>
<ellipse cx="208.0" cy="304.0" rx="5.6" ry="6.8" fill="#666" stroke="none" stroke-width="0" transform="rotate(-28.0 208.0 304.0)"/>
<ellipse cx="208.4" cy="304.0" rx="2.7" ry="4.6" fill="#fff" stroke="#000" stroke-width="1.1" transform="rotate(-20.0 208.4 304.0)"/>
<polygon points="236.9,170.0 213.9,182.0 218.1,190.0 241.1,178.0" fill="#8a8a8a" stroke="#000" stroke-width="1.1" stroke-linejoin="round" />
<polygon points="233.5,171.8 213.9,182.0 218.1,190.0 237.6,179.8" fill="#4a4a4a" stroke="#000" stroke-width="1.1" stroke-linejoin="round" />
<polyline points="230.6,174.3 232.6,181.4" fill="none" stroke="#8e8e8e" stroke-width="0.7" stroke-linejoin="miter"/>
<polyline points="227.4,176.0 229.4,183.1" fill="none" stroke="#8e8e8e" stroke-width="0.7" stroke-linejoin="miter"/>
<polyline points="224.1,177.7 226.1,184.8" fill="none" stroke="#8e8e8e" stroke-width="0.7" stroke-linejoin="miter"/>
<polyline points="220.9,179.4 222.9,186.5" fill="none" stroke="#8e8e8e" stroke-width="0.7" stroke-linejoin="miter"/>
<polyline points="217.6,181.1 219.6,188.2" fill="none" stroke="#8e8e8e" stroke-width="0.7" stroke-linejoin="miter"/>
<ellipse cx="216.0" cy="186.0" rx="2.5" ry="4.5" fill="#4a4a4a" stroke="#000" stroke-width="1.0" transform="rotate(152.4 216.0 186.0)"/>
<ellipse cx="216.0" cy="186.0" rx="1.6" ry="3.1" fill="#888" stroke="none" stroke-width="0" transform="rotate(152.4 216.0 186.0)"/>
<polygon points="229.4,179.0 229.5,170.2 233.9,167.8 241.3,164.0 248.6,169.0 248.5,177.8 244.1,180.2 236.7,184.0" fill="#3a3a3a" stroke="#000" stroke-width="1.2" stroke-linejoin="round" />
<polyline points="233.9,167.8 229.5,170.2" fill="none" stroke="#000" stroke-width="0.8" stroke-linejoin="miter"/>
<polyline points="233.9,176.7 229.4,179.0" fill="none" stroke="#000" stroke-width="0.8" stroke-linejoin="miter"/>
<polyline points="241.2,181.7 236.7,184.0" fill="none" stroke="#000" stroke-width="0.8" stroke-linejoin="miter"/>
<polyline points="248.5,177.8 244.1,180.2" fill="none" stroke="#000" stroke-width="0.8" stroke-linejoin="miter"/>
<polyline points="248.6,169.0 244.1,171.3" fill="none" stroke="#000" stroke-width="0.8" stroke-linejoin="miter"/>
<polyline points="241.3,164.0 236.8,166.3" fill="none" stroke="#000" stroke-width="0.8" stroke-linejoin="miter"/>
<polygon points="233.9,167.8 233.9,176.7 229.4,179.0 229.5,170.2" fill="#9a9a9a" stroke="#000" stroke-width="0.7" stroke-linejoin="round" opacity="0.8"/>
<polygon points="233.9,167.8 233.9,176.7 241.2,181.7 248.5,177.8 248.6,169.0 241.3,164.0" fill="#6a6a6a" stroke="#000" stroke-width="1.2" stroke-linejoin="round" />
<ellipse cx="210.6" cy="190.6" rx="6.0" ry="8.0" fill="#383838" stroke="#000" stroke-width="1.3" transform="rotate(-28.0 210.6 190.6)"/>
<ellipse cx="209.0" cy="190.0" rx="6.0" ry="8.0" fill="#383838" stroke="#000" stroke-width="1.4" transform="rotate(-28.0 209.0 190.0)"/>
<ellipse cx="209.0" cy="190.0" rx="3.7" ry="5.0" fill="#666" stroke="none" stroke-width="0" transform="rotate(-28.0 209.0 190.0)"/>
<ellipse cx="209.4" cy="190.0" rx="1.8" ry="3.4" fill="#fff" stroke="#000" stroke-width="1.1" transform="rotate(-20.0 209.4 190.0)"/>
<polygon points="340.3,218.6 297.8,242.1 302.2,249.9 344.7,226.4" fill="#b4b4b4" stroke="#000" stroke-width="1.1" stroke-linejoin="round" />
<polygon points="316.9,231.5 297.8,242.1 302.2,249.9 321.3,239.4" fill="#555" stroke="#000" stroke-width="1.1" stroke-linejoin="round" />
<polyline points="314.2,234.0 316.4,241.1" fill="none" stroke="#8e8e8e" stroke-width="0.7" stroke-linejoin="miter"/>
<polyline points="311.0,235.8 313.2,242.8" fill="none" stroke="#8e8e8e" stroke-width="0.7" stroke-linejoin="miter"/>
<polyline points="307.8,237.6 310.0,244.6" fill="none" stroke="#8e8e8e" stroke-width="0.7" stroke-linejoin="miter"/>
<polyline points="304.6,239.3 306.8,246.4" fill="none" stroke="#8e8e8e" stroke-width="0.7" stroke-linejoin="miter"/>
<polyline points="301.4,241.1 303.6,248.1" fill="none" stroke="#8e8e8e" stroke-width="0.7" stroke-linejoin="miter"/>
<ellipse cx="300.0" cy="246.0" rx="2.5" ry="4.5" fill="#555" stroke="#000" stroke-width="1.0" transform="rotate(151.1 300.0 246.0)"/>
<ellipse cx="300.0" cy="246.0" rx="1.6" ry="3.1" fill="#888" stroke="none" stroke-width="0" transform="rotate(151.1 300.0 246.0)"/>
<polygon points="334.4,219.6 340.4,216.2 344.3,214.1 350.5,218.1 350.6,225.4 344.6,228.8 340.7,230.9 334.5,226.9" fill="#3a3a3a" stroke="#000" stroke-width="1.2" stroke-linejoin="round" />
<polyline points="338.3,217.4 334.4,219.6" fill="none" stroke="#000" stroke-width="0.8" stroke-linejoin="miter"/>
<polyline points="338.4,224.8 334.5,226.9" fill="none" stroke="#000" stroke-width="0.8" stroke-linejoin="miter"/>
<polyline points="344.6,228.8 340.7,230.9" fill="none" stroke="#000" stroke-width="0.8" stroke-linejoin="miter"/>
<polyline points="350.6,225.4 346.7,227.6" fill="none" stroke="#000" stroke-width="0.8" stroke-linejoin="miter"/>
<polyline points="350.5,218.1 346.6,220.2" fill="none" stroke="#000" stroke-width="0.8" stroke-linejoin="miter"/>
<polyline points="344.3,214.1 340.4,216.2" fill="none" stroke="#000" stroke-width="0.8" stroke-linejoin="miter"/>
<polygon points="338.3,217.4 338.4,224.8 334.5,226.9 334.4,219.6" fill="#aaa" stroke="#000" stroke-width="0.7" stroke-linejoin="round" opacity="0.8"/>
<polygon points="338.3,217.4 338.4,224.8 344.6,228.8 350.6,225.4 350.5,218.1 344.3,214.1" fill="#6a6a6a" stroke="#000" stroke-width="1.2" stroke-linejoin="round" />
<ellipse cx="286.6" cy="252.6" rx="6.0" ry="8.0" fill="#383838" stroke="#000" stroke-width="1.3" transform="rotate(-28.0 286.6 252.6)"/>
<ellipse cx="285.0" cy="252.0" rx="6.0" ry="8.0" fill="#383838" stroke="#000" stroke-width="1.4" transform="rotate(-28.0 285.0 252.0)"/>
<ellipse cx="285.0" cy="252.0" rx="3.7" ry="5.0" fill="#666" stroke="none" stroke-width="0" transform="rotate(-28.0 285.0 252.0)"/>
<ellipse cx="285.4" cy="252.0" rx="1.8" ry="3.4" fill="#fff" stroke="#000" stroke-width="1.1" transform="rotate(-20.0 285.4 252.0)"/>
<ellipse cx="338.6" cy="310.6" rx="7.0" ry="9.0" fill="#383838" stroke="#000" stroke-width="1.3" transform="rotate(-28.0 338.6 310.6)"/>
<ellipse cx="337.0" cy="310.0" rx="7.0" ry="9.0" fill="#383838" stroke="#000" stroke-width="1.4" transform="rotate(-28.0 337.0 310.0)"/>
<ellipse cx="337.0" cy="310.0" rx="4.3" ry="5.6" fill="#666" stroke="none" stroke-width="0" transform="rotate(-28.0 337.0 310.0)"/>
<ellipse cx="337.4" cy="310.0" rx="2.1" ry="3.8" fill="#fff" stroke="#000" stroke-width="1.1" transform="rotate(-20.0 337.4 310.0)"/>
<polygon points="370.7,325.6 363.6,332.7 353.9,330.1 351.3,320.4 358.4,313.3 368.1,315.9" fill="#353535" stroke="#000" stroke-width="1.8" stroke-linejoin="round" />
<polygon points="353.0,319.5 358.0,314.8 363.0,317.0 360.5,323.0" fill="#8c8c8c" stroke="none" stroke-width="0" stroke-linejoin="round" />
<polygon points="352.8,322.5 360.0,325.2 359.5,331.2 354.0,328.0" fill="#666" stroke="none" stroke-width="0" stroke-linejoin="round" />
<polygon points="364.0,318.5 368.8,321.0 368.0,327.5 363.5,330.0" fill="#444" stroke="none" stroke-width="0" stroke-linejoin="round" />
<polyline points="360.5,323.0 359.8,331.5" fill="none" stroke="#000" stroke-width="1.0" stroke-linejoin="miter"/>
<polyline points="360.5,323.0 368.5,320.0" fill="none" stroke="#000" stroke-width="0.8" stroke-linejoin="miter"/>
<polyline points="365.5,320.5 365.0,329.0" fill="none" stroke="#999" stroke-width="0.8" stroke-linejoin="miter"/>
<polygon points="379.7,545.1 372.6,552.2 362.9,549.6 360.3,539.9 367.4,532.8 377.1,535.4" fill="#353535" stroke="#000" stroke-width="1.8" stroke-linejoin="round" />
<polygon points="362.0,539.0 367.0,534.3 372.0,536.5 369.5,542.5" fill="#8c8c8c" stroke="none" stroke-width="0" stroke-linejoin="round" />
<polygon points="361.8,542.0 369.0,544.7 368.5,550.7 363.0,547.5" fill="#666" stroke="none" stroke-width="0" stroke-linejoin="round" />
<polygon points="373.0,538.0 377.8,540.5 377.0,547.0 372.5,549.5" fill="#444" stroke="none" stroke-width="0" stroke-linejoin="round" />
<polyline points="369.5,542.5 368.8,551.0" fill="none" stroke="#000" stroke-width="1.0" stroke-linejoin="miter"/>
<polyline points="369.5,542.5 377.5,539.5" fill="none" stroke="#000" stroke-width="0.8" stroke-linejoin="miter"/>
<polyline points="374.5,540.0 374.0,548.5" fill="none" stroke="#999" stroke-width="0.8" stroke-linejoin="miter"/>
<polygon points="417.2,530.1 410.1,537.2 400.4,534.6 397.8,524.9 404.9,517.8 414.6,520.4" fill="#353535" stroke="#000" stroke-width="1.8" stroke-linejoin="round" />
<polygon points="399.5,524.0 404.5,519.3 409.5,521.5 407.0,527.5" fill="#8c8c8c" stroke="none" stroke-width="0" stroke-linejoin="round" />
<polygon points="399.3,527.0 406.5,529.7 406.0,535.7 400.5,532.5" fill="#666" stroke="none" stroke-width="0" stroke-linejoin="round" />
<polygon points="410.5,523.0 415.3,525.5 414.5,532.0 410.0,534.5" fill="#444" stroke="none" stroke-width="0" stroke-linejoin="round" />
<polyline points="407.0,527.5 406.3,536.0" fill="none" stroke="#000" stroke-width="1.0" stroke-linejoin="miter"/>
<polyline points="407.0,527.5 415.0,524.5" fill="none" stroke="#000" stroke-width="0.8" stroke-linejoin="miter"/>
<polyline points="412.0,525.0 411.5,533.5" fill="none" stroke="#999" stroke-width="0.8" stroke-linejoin="miter"/>
<ellipse cx="462.6" cy="558.1" rx="8.0" ry="9.0" fill="#383838" stroke="#000" stroke-width="1.3" transform="rotate(-28.0 462.6 558.1)"/>
<ellipse cx="461.0" cy="557.5" rx="8.0" ry="9.0" fill="#383838" stroke="#000" stroke-width="1.4" transform="rotate(-28.0 461.0 557.5)"/>
<ellipse cx="461.0" cy="557.5" rx="5.0" ry="5.6" fill="#666" stroke="none" stroke-width="0" transform="rotate(-28.0 461.0 557.5)"/>
<ellipse cx="461.4" cy="557.5" rx="2.4" ry="3.8" fill="#fff" stroke="#000" stroke-width="1.1" transform="rotate(-20.0 461.4 557.5)"/>
<ellipse cx="545.0" cy="643.6" rx="8.0" ry="9.0" fill="#383838" stroke="#000" stroke-width="1.3" transform="rotate(-28.0 545.0 643.6)"/>
<ellipse cx="543.4" cy="643.0" rx="8.0" ry="9.0" fill="#383838" stroke="#000" stroke-width="1.4" transform="rotate(-28.0 543.4 643.0)"/>
<ellipse cx="543.4" cy="643.0" rx="5.0" ry="5.6" fill="#666" stroke="none" stroke-width="0" transform="rotate(-28.0 543.4 643.0)"/>
<ellipse cx="543.8" cy="643.0" rx="2.4" ry="3.8" fill="#fff" stroke="#000" stroke-width="1.1" transform="rotate(-20.0 543.8 643.0)"/>
<ellipse cx="582.6" cy="628.2" rx="8.0" ry="9.0" fill="#383838" stroke="#000" stroke-width="1.3" transform="rotate(-28.0 582.6 628.2)"/>
<ellipse cx="581.0" cy="627.6" rx="8.0" ry="9.0" fill="#383838" stroke="#000" stroke-width="1.4" transform="rotate(-28.0 581.0 627.6)"/>
<ellipse cx="581.0" cy="627.6" rx="5.0" ry="5.6" fill="#666" stroke="none" stroke-width="0" transform="rotate(-28.0 581.0 627.6)"/>
<ellipse cx="581.4" cy="627.6" rx="2.4" ry="3.8" fill="#fff" stroke="#000" stroke-width="1.1" transform="rotate(-20.0 581.4 627.6)"/>
<polygon points="653.1,663.7 605.4,637.1 601.2,644.5 648.9,671.1" fill="#b4b4b4" stroke="#000" stroke-width="1.1" stroke-linejoin="round" />
<polygon points="626.8,649.1 605.4,637.1 601.2,644.5 622.7,656.5" fill="#555" stroke="#000" stroke-width="1.1" stroke-linejoin="round" />
<polyline points="623.4,648.1 618.7,653.3" fill="none" stroke="#8e8e8e" stroke-width="0.7" stroke-linejoin="miter"/>
<polyline points="620.3,646.4 615.7,651.6" fill="none" stroke="#8e8e8e" stroke-width="0.7" stroke-linejoin="miter"/>
<polyline points="617.2,644.7 612.6,649.9" fill="none" stroke="#8e8e8e" stroke-width="0.7" stroke-linejoin="miter"/>
<polyline points="614.2,643.0 609.5,648.2" fill="none" stroke="#8e8e8e" stroke-width="0.7" stroke-linejoin="miter"/>
<polyline points="611.1,641.3 606.5,646.5" fill="none" stroke="#8e8e8e" stroke-width="0.7" stroke-linejoin="miter"/>
<polyline points="608.0,639.5 603.4,644.7" fill="none" stroke="#8e8e8e" stroke-width="0.7" stroke-linejoin="miter"/>
<ellipse cx="603.3" cy="640.8" rx="2.3" ry="4.2" fill="#555" stroke="#000" stroke-width="1.0" transform="rotate(-150.9 603.3 640.8)"/>
<ellipse cx="603.3" cy="640.8" rx="1.5" ry="3.0" fill="#888" stroke="none" stroke-width="0" transform="rotate(-150.9 603.3 640.8)"/>
<polygon points="640.8,670.7 641.0,661.8 648.4,657.0 653.9,660.1 661.2,664.1 661.0,673.0 653.6,677.8 648.1,674.7" fill="#3a3a3a" stroke="#000" stroke-width="1.2" stroke-linejoin="round" />
<polyline points="653.9,660.1 648.4,657.0" fill="none" stroke="#000" stroke-width="0.8" stroke-linejoin="miter"/>
<polyline points="646.5,664.9 641.0,661.8" fill="none" stroke="#000" stroke-width="0.8" stroke-linejoin="miter"/>
<polyline points="646.3,673.7 640.8,670.7" fill="none" stroke="#000" stroke-width="0.8" stroke-linejoin="miter"/>
<polyline points="653.6,677.8 648.1,674.7" fill="none" stroke="#000" stroke-width="0.8" stroke-linejoin="miter"/>
<polyline points="661.0,673.0 655.5,669.9" fill="none" stroke="#000" stroke-width="0.8" stroke-linejoin="miter"/>
<polyline points="661.2,664.1 655.7,661.1" fill="none" stroke="#000" stroke-width="0.8" stroke-linejoin="miter"/>
<polygon points="653.9,660.1 646.5,664.9 641.0,661.8 648.4,657.0" fill="#aaa" stroke="#000" stroke-width="0.7" stroke-linejoin="round" opacity="0.8"/>
<polygon points="653.9,660.1 646.5,664.9 646.3,673.7 653.6,677.8 661.0,673.0 661.2,664.1" fill="#6a6a6a" stroke="#000" stroke-width="1.2" stroke-linejoin="round" />
<polygon points="615.1,679.6 567.1,652.0 562.9,659.4 610.9,687.0" fill="#b4b4b4" stroke="#000" stroke-width="1.1" stroke-linejoin="round" />
<polygon points="588.7,664.4 567.1,652.0 562.9,659.4 584.5,671.8" fill="#555" stroke="#000" stroke-width="1.1" stroke-linejoin="round" />
<polyline points="585.2,663.4 580.5,668.5" fill="none" stroke="#8e8e8e" stroke-width="0.7" stroke-linejoin="miter"/>
<polyline points="582.1,661.6 577.4,666.8" fill="none" stroke="#8e8e8e" stroke-width="0.7" stroke-linejoin="miter"/>
<polyline points="579.0,659.8 574.3,665.0" fill="none" stroke="#8e8e8e" stroke-width="0.7" stroke-linejoin="miter"/>
<polyline points="576.0,658.1 571.3,663.2" fill="none" stroke="#8e8e8e" stroke-width="0.7" stroke-linejoin="miter"/>
<polyline points="572.9,656.3 568.2,661.4" fill="none" stroke="#8e8e8e" stroke-width="0.7" stroke-linejoin="miter"/>
<polyline points="569.8,654.5 565.1,659.7" fill="none" stroke="#8e8e8e" stroke-width="0.7" stroke-linejoin="miter"/>
<ellipse cx="565.0" cy="655.7" rx="2.3" ry="4.2" fill="#555" stroke="#000" stroke-width="1.0" transform="rotate(-150.1 565.0 655.7)"/>
<ellipse cx="565.0" cy="655.7" rx="1.5" ry="3.0" fill="#888" stroke="none" stroke-width="0" transform="rotate(-150.1 565.0 655.7)"/>
<polygon points="602.8,686.4 603.1,677.6 610.6,672.9 617.7,677.0 623.2,680.2 622.9,689.0 615.4,693.7 608.3,689.6" fill="#3a3a3a" stroke="#000" stroke-width="1.2" stroke-linejoin="round" />
<polyline points="616.0,676.0 610.6,672.9" fill="none" stroke="#000" stroke-width="0.8" stroke-linejoin="miter"/>
<polyline points="608.6,680.7 603.1,677.6" fill="none" stroke="#000" stroke-width="0.8" stroke-linejoin="miter"/>
<polyline points="608.3,689.6 602.8,686.4" fill="none" stroke="#000" stroke-width="0.8" stroke-linejoin="miter"/>
<polyline points="615.4,693.7 610.0,690.6" fill="none" stroke="#000" stroke-width="0.8" stroke-linejoin="miter"/>
<polyline points="622.9,689.0 617.4,685.9" fill="none" stroke="#000" stroke-width="0.8" stroke-linejoin="miter"/>
<polyline points="623.2,680.2 617.7,677.0" fill="none" stroke="#000" stroke-width="0.8" stroke-linejoin="miter"/>
<polygon points="616.0,676.0 608.6,680.7 603.1,677.6 610.6,672.9" fill="#aaa" stroke="#000" stroke-width="0.7" stroke-linejoin="round" opacity="0.8"/>
<polygon points="616.0,676.0 608.6,680.7 608.3,689.6 615.4,693.7 622.9,689.0 623.2,680.2" fill="#6a6a6a" stroke="#000" stroke-width="1.2" stroke-linejoin="round" />
<polygon points="783.7,564.6 776.6,571.7 766.9,569.1 764.3,559.4 771.4,552.3 781.1,554.9" fill="#353535" stroke="#000" stroke-width="1.8" stroke-linejoin="round" />
<polygon points="766.0,558.5 771.0,553.8 776.0,556.0 773.5,562.0" fill="#8c8c8c" stroke="none" stroke-width="0" stroke-linejoin="round" />
<polygon points="765.8,561.5 773.0,564.2 772.5,570.2 767.0,567.0" fill="#666" stroke="none" stroke-width="0" stroke-linejoin="round" />
<polygon points="777.0,557.5 781.8,560.0 781.0,566.5 776.5,569.0" fill="#444" stroke="none" stroke-width="0" stroke-linejoin="round" />
<polyline points="773.5,562.0 772.8,570.5" fill="none" stroke="#000" stroke-width="1.0" stroke-linejoin="miter"/>
<polyline points="773.5,562.0 781.5,559.0" fill="none" stroke="#000" stroke-width="0.8" stroke-linejoin="miter"/>
<polyline points="778.5,559.5 778.0,568.0" fill="none" stroke="#999" stroke-width="0.8" stroke-linejoin="miter"/>
<ellipse cx="795.6" cy="574.3" rx="8.0" ry="9.0" fill="#383838" stroke="#000" stroke-width="1.3" transform="rotate(-28.0 795.6 574.3)"/>
<ellipse cx="794.0" cy="573.7" rx="8.0" ry="9.0" fill="#383838" stroke="#000" stroke-width="1.4" transform="rotate(-28.0 794.0 573.7)"/>
<ellipse cx="794.0" cy="573.7" rx="5.0" ry="5.6" fill="#666" stroke="none" stroke-width="0" transform="rotate(-28.0 794.0 573.7)"/>
<ellipse cx="794.4" cy="573.7" rx="2.4" ry="3.8" fill="#fff" stroke="#000" stroke-width="1.1" transform="rotate(-20.0 794.4 573.7)"/>
<ellipse cx="959.3" cy="621.6" rx="7.0" ry="8.0" fill="#383838" stroke="#000" stroke-width="1.3" transform="rotate(-28.0 959.3 621.6)"/>
<ellipse cx="957.7" cy="621.0" rx="7.0" ry="8.0" fill="#383838" stroke="#000" stroke-width="1.4" transform="rotate(-28.0 957.7 621.0)"/>
<ellipse cx="957.7" cy="621.0" rx="4.3" ry="5.0" fill="#666" stroke="none" stroke-width="0" transform="rotate(-28.0 957.7 621.0)"/>
<ellipse cx="958.1" cy="621.0" rx="2.1" ry="3.4" fill="#fff" stroke="#000" stroke-width="1.1" transform="rotate(-20.0 958.1 621.0)"/>
<polygon points="1007.8,587.5 966.8,610.6 971.2,618.4 1012.2,595.3" fill="#b4b4b4" stroke="#000" stroke-width="1.1" stroke-linejoin="round" />
<polygon points="985.2,600.2 966.8,610.6 971.2,618.4 989.7,608.0" fill="#555" stroke="#000" stroke-width="1.1" stroke-linejoin="round" />
<polyline points="982.6,602.7 984.8,609.7" fill="none" stroke="#8e8e8e" stroke-width="0.7" stroke-linejoin="miter"/>
<polyline points="979.5,604.4 981.8,611.4" fill="none" stroke="#8e8e8e" stroke-width="0.7" stroke-linejoin="miter"/>
<polyline points="976.5,606.2 978.7,613.2" fill="none" stroke="#8e8e8e" stroke-width="0.7" stroke-linejoin="miter"/>
<polyline points="973.4,607.9 975.6,614.9" fill="none" stroke="#8e8e8e" stroke-width="0.7" stroke-linejoin="miter"/>
<polyline points="970.3,609.6 972.5,616.6" fill="none" stroke="#8e8e8e" stroke-width="0.7" stroke-linejoin="miter"/>
<ellipse cx="969.0" cy="614.5" rx="2.5" ry="4.5" fill="#555" stroke="#000" stroke-width="1.0" transform="rotate(150.6 969.0 614.5)"/>
<ellipse cx="969.0" cy="614.5" rx="1.6" ry="3.1" fill="#888" stroke="none" stroke-width="0" transform="rotate(150.6 969.0 614.5)"/>
<polygon points="1001.2,588.4 1005.6,585.9 1012.0,582.3 1018.6,586.6 1018.8,594.4 1014.4,596.9 1008.0,600.5 1001.4,596.2" fill="#3a3a3a" stroke="#000" stroke-width="1.2" stroke-linejoin="round" />
<polyline points="1005.6,585.9 1001.2,588.4" fill="none" stroke="#000" stroke-width="0.8" stroke-linejoin="miter"/>
<polyline points="1005.8,593.8 1001.4,596.2" fill="none" stroke="#000" stroke-width="0.8" stroke-linejoin="miter"/>
<polyline points="1012.4,598.0 1008.0,600.5" fill="none" stroke="#000" stroke-width="0.8" stroke-linejoin="miter"/>
<polyline points="1018.8,594.4 1014.4,596.9" fill="none" stroke="#000" stroke-width="0.8" stroke-linejoin="miter"/>
<polyline points="1018.6,586.6 1014.2,589.0" fill="none" stroke="#000" stroke-width="0.8" stroke-linejoin="miter"/>
<polyline points="1012.0,582.3 1007.6,584.8" fill="none" stroke="#000" stroke-width="0.8" stroke-linejoin="miter"/>
<polygon points="1005.6,585.9 1005.8,593.8 1001.4,596.2 1001.2,588.4" fill="#aaa" stroke="#000" stroke-width="0.7" stroke-linejoin="round" opacity="0.8"/>
<polygon points="1005.6,585.9 1005.8,593.8 1012.4,598.0 1018.8,594.4 1018.6,586.6 1012.0,582.3" fill="#6a6a6a" stroke="#000" stroke-width="1.2" stroke-linejoin="round" />
<ellipse cx="1031.0" cy="686.6" rx="7.0" ry="8.0" fill="#383838" stroke="#000" stroke-width="1.3" transform="rotate(-28.0 1031.0 686.6)"/>
<ellipse cx="1029.4" cy="686.0" rx="7.0" ry="8.0" fill="#383838" stroke="#000" stroke-width="1.4" transform="rotate(-28.0 1029.4 686.0)"/>
<ellipse cx="1029.4" cy="686.0" rx="4.3" ry="5.0" fill="#666" stroke="none" stroke-width="0" transform="rotate(-28.0 1029.4 686.0)"/>
<ellipse cx="1029.8" cy="686.0" rx="2.1" ry="3.4" fill="#fff" stroke="#000" stroke-width="1.1" transform="rotate(-20.0 1029.8 686.0)"/>
<polygon points="1061.9,663.1 1039.4,673.5 1043.6,682.5 1066.1,672.1" fill="#8a8a8a" stroke="#000" stroke-width="1.1" stroke-linejoin="round" />
<polygon points="1058.5,664.6 1039.4,673.5 1043.6,682.5 1062.7,673.7" fill="#4a4a4a" stroke="#000" stroke-width="1.1" stroke-linejoin="round" />
<polyline points="1055.8,667.0 1057.8,674.9" fill="none" stroke="#8e8e8e" stroke-width="0.7" stroke-linejoin="miter"/>
<polyline points="1052.6,668.5 1054.6,676.4" fill="none" stroke="#8e8e8e" stroke-width="0.7" stroke-linejoin="miter"/>
<polyline points="1049.4,669.9 1051.4,677.8" fill="none" stroke="#8e8e8e" stroke-width="0.7" stroke-linejoin="miter"/>
<polyline points="1046.2,671.4 1048.2,679.3" fill="none" stroke="#8e8e8e" stroke-width="0.7" stroke-linejoin="miter"/>
<polyline points="1043.0,672.9 1045.0,680.8" fill="none" stroke="#8e8e8e" stroke-width="0.7" stroke-linejoin="miter"/>
<ellipse cx="1041.5" cy="678.0" rx="2.8" ry="5.0" fill="#4a4a4a" stroke="#000" stroke-width="1.0" transform="rotate(155.2 1041.5 678.0)"/>
<ellipse cx="1041.5" cy="678.0" rx="1.8" ry="3.5" fill="#888" stroke="none" stroke-width="0" transform="rotate(155.2 1041.5 678.0)"/>
<polygon points="1053.8,672.3 1054.3,663.0 1058.9,660.9 1066.8,657.2 1074.2,662.9 1073.7,672.2 1069.1,674.3 1061.2,678.0" fill="#3a3a3a" stroke="#000" stroke-width="1.2" stroke-linejoin="round" />
<polyline points="1058.9,660.9 1054.3,663.0" fill="none" stroke="#000" stroke-width="0.8" stroke-linejoin="miter"/>
<polyline points="1058.3,670.2 1053.8,672.3" fill="none" stroke="#000" stroke-width="0.8" stroke-linejoin="miter"/>
<polyline points="1065.8,675.9 1061.2,678.0" fill="none" stroke="#000" stroke-width="0.8" stroke-linejoin="miter"/>
<polyline points="1073.7,672.2 1069.1,674.3" fill="none" stroke="#000" stroke-width="0.8" stroke-linejoin="miter"/>
<polyline points="1074.2,662.9 1069.7,665.0" fill="none" stroke="#000" stroke-width="0.8" stroke-linejoin="miter"/>
<polyline points="1066.8,657.2 1062.2,659.3" fill="none" stroke="#000" stroke-width="0.8" stroke-linejoin="miter"/>
<polygon points="1058.9,660.9 1058.3,670.2 1053.8,672.3 1054.3,663.0" fill="#9a9a9a" stroke="#000" stroke-width="0.7" stroke-linejoin="round" opacity="0.8"/>
<polygon points="1058.9,660.9 1058.3,670.2 1065.8,675.9 1073.7,672.2 1074.2,662.9 1066.8,657.2" fill="#6a6a6a" stroke="#000" stroke-width="1.2" stroke-linejoin="round" />
<ellipse cx="1027.6" cy="707.6" rx="8.0" ry="9.0" fill="#383838" stroke="#000" stroke-width="1.3" transform="rotate(-28.0 1027.6 707.6)"/>
<ellipse cx="1026.0" cy="707.0" rx="8.0" ry="9.0" fill="#383838" stroke="#000" stroke-width="1.4" transform="rotate(-28.0 1026.0 707.0)"/>
<ellipse cx="1026.0" cy="707.0" rx="5.0" ry="5.6" fill="#666" stroke="none" stroke-width="0" transform="rotate(-28.0 1026.0 707.0)"/>
<ellipse cx="1026.4" cy="707.0" rx="2.4" ry="3.8" fill="#fff" stroke="#000" stroke-width="1.1" transform="rotate(-20.0 1026.4 707.0)"/>
<polygon points="1064.5,722.1 1038.5,709.1 1033.5,718.9 1059.5,731.9" fill="#8a8a8a" stroke="#000" stroke-width="1.1" stroke-linejoin="round" />
<polygon points="1060.6,720.1 1038.5,709.1 1033.5,718.9 1055.6,730.0" fill="#4a4a4a" stroke="#000" stroke-width="1.1" stroke-linejoin="round" />
<polyline points="1056.9,719.5 1051.6,726.7" fill="none" stroke="#8e8e8e" stroke-width="0.7" stroke-linejoin="miter"/>
<polyline points="1053.8,718.0 1048.5,725.2" fill="none" stroke="#8e8e8e" stroke-width="0.7" stroke-linejoin="miter"/>
<polyline points="1050.6,716.4 1045.3,723.6" fill="none" stroke="#8e8e8e" stroke-width="0.7" stroke-linejoin="miter"/>
<polyline points="1047.4,714.8 1042.2,722.0" fill="none" stroke="#8e8e8e" stroke-width="0.7" stroke-linejoin="miter"/>
<polyline points="1044.3,713.2 1039.0,720.4" fill="none" stroke="#8e8e8e" stroke-width="0.7" stroke-linejoin="miter"/>
<polyline points="1041.1,711.6 1035.8,718.8" fill="none" stroke="#8e8e8e" stroke-width="0.7" stroke-linejoin="miter"/>
<ellipse cx="1036.0" cy="714.0" rx="3.0" ry="5.5" fill="#4a4a4a" stroke="#000" stroke-width="1.0" transform="rotate(-153.4 1036.0 714.0)"/>
<ellipse cx="1036.0" cy="714.0" rx="1.9" ry="3.8" fill="#888" stroke="none" stroke-width="0" transform="rotate(-153.4 1036.0 714.0)"/>
<polygon points="1051.1,721.5 1059.1,715.9 1072.7,722.7 1072.9,732.5 1064.9,738.1 1051.3,731.3" fill="#4a4a4a" stroke="#000" stroke-width="1.2" stroke-linejoin="round" />
<polyline points="1064.4,718.5 1059.1,715.9" fill="none" stroke="#000" stroke-width="0.8" stroke-linejoin="miter"/>
<polyline points="1056.5,724.2 1051.1,721.5" fill="none" stroke="#000" stroke-width="0.8" stroke-linejoin="miter"/>
<polyline points="1056.7,734.0 1051.3,731.3" fill="none" stroke="#000" stroke-width="0.8" stroke-linejoin="miter"/>
<polyline points="1064.9,738.1 1059.6,735.5" fill="none" stroke="#000" stroke-width="0.8" stroke-linejoin="miter"/>
<polyline points="1072.9,732.5 1067.5,729.8" fill="none" stroke="#000" stroke-width="0.8" stroke-linejoin="miter"/>
<polyline points="1072.7,722.7 1067.3,720.0" fill="none" stroke="#000" stroke-width="0.8" stroke-linejoin="miter"/>
<polygon points="1064.4,718.5 1056.5,724.2 1051.1,721.5 1059.1,715.9" fill="#aaa" stroke="#000" stroke-width="0.7" stroke-linejoin="round" opacity="0.8"/>
<polygon points="1064.4,718.5 1056.5,724.2 1056.7,734.0 1064.9,738.1 1072.9,732.5 1072.7,722.7" fill="#7a7a7a" stroke="#000" stroke-width="1.2" stroke-linejoin="round" />
<ellipse cx="839.6" cy="688.6" rx="10.0" ry="11.0" fill="#4a4a4a" stroke="#000" stroke-width="1.3" transform="rotate(-28.0 839.6 688.6)"/>
<ellipse cx="838.0" cy="688.0" rx="10.0" ry="11.0" fill="#4a4a4a" stroke="#000" stroke-width="1.4" transform="rotate(-28.0 838.0 688.0)"/>
<ellipse cx="838.0" cy="688.0" rx="6.2" ry="6.8" fill="#666" stroke="none" stroke-width="0" transform="rotate(-28.0 838.0 688.0)"/>
<ellipse cx="838.4" cy="688.0" rx="3.0" ry="4.6" fill="#fff" stroke="#000" stroke-width="1.1" transform="rotate(-20.0 838.4 688.0)"/>
<ellipse cx="827.6" cy="695.6" rx="5.0" ry="7.0" fill="#383838" stroke="#000" stroke-width="1.3" transform="rotate(-28.0 827.6 695.6)"/>
<ellipse cx="826.0" cy="695.0" rx="5.0" ry="7.0" fill="#383838" stroke="#000" stroke-width="1.4" transform="rotate(-28.0 826.0 695.0)"/>
<ellipse cx="826.0" cy="695.0" rx="3.1" ry="4.3" fill="#666" stroke="none" stroke-width="0" transform="rotate(-28.0 826.0 695.0)"/>
<ellipse cx="826.4" cy="695.0" rx="1.5" ry="2.9" fill="#fff" stroke="#000" stroke-width="1.1" transform="rotate(-20.0 826.4 695.0)"/>
<polygon points="821.1,706.0 814.7,712.4 806.0,710.1 803.7,701.4 810.1,695.0 818.8,697.3" fill="#353535" stroke="#000" stroke-width="1.8" stroke-linejoin="round" />
<polygon points="805.2,700.6 809.7,696.3 814.2,698.3 811.9,703.7" fill="#8c8c8c" stroke="none" stroke-width="0" stroke-linejoin="round" />
<polygon points="805.0,703.2 811.5,705.7 811.0,711.1 806.1,708.2" fill="#666" stroke="none" stroke-width="0" stroke-linejoin="round" />
<polygon points="815.1,699.7 819.4,701.9 818.7,707.8 814.6,710.0" fill="#444" stroke="none" stroke-width="0" stroke-linejoin="round" />
<polyline points="811.9,703.7 811.3,711.4" fill="none" stroke="#000" stroke-width="1.0" stroke-linejoin="miter"/>
<polyline points="811.9,703.7 819.1,701.0" fill="none" stroke="#000" stroke-width="0.8" stroke-linejoin="miter"/>
<polyline points="816.4,701.5 816.0,709.1" fill="none" stroke="#999" stroke-width="0.8" stroke-linejoin="miter"/>
<polygon points="783.7,783.1 831.7,758.1 824.3,743.9 776.3,768.9" fill="#bbb" stroke="#000" stroke-width="1.1" stroke-linejoin="round" />
<polygon points="795.7,776.8 831.7,758.1 824.3,743.9 788.3,762.7" fill="#606060" stroke="#000" stroke-width="1.1" stroke-linejoin="round" />
<polyline points="798.0,773.9 793.4,761.8" fill="none" stroke="#8e8e8e" stroke-width="0.7" stroke-linejoin="miter"/>
<polyline points="801.0,772.3 796.4,760.3" fill="none" stroke="#8e8e8e" stroke-width="0.7" stroke-linejoin="miter"/>
<polyline points="804.0,770.7 799.4,758.7" fill="none" stroke="#8e8e8e" stroke-width="0.7" stroke-linejoin="miter"/>
<polyline points="807.0,769.2 802.4,757.1" fill="none" stroke="#8e8e8e" stroke-width="0.7" stroke-linejoin="miter"/>
<polyline points="810.0,767.6 805.4,755.6" fill="none" stroke="#8e8e8e" stroke-width="0.7" stroke-linejoin="miter"/>
<polyline points="813.0,766.1 808.4,754.0" fill="none" stroke="#8e8e8e" stroke-width="0.7" stroke-linejoin="miter"/>
<polyline points="816.0,764.5 811.4,752.4" fill="none" stroke="#8e8e8e" stroke-width="0.7" stroke-linejoin="miter"/>
<polyline points="819.0,762.9 814.4,750.9" fill="none" stroke="#8e8e8e" stroke-width="0.7" stroke-linejoin="miter"/>
<polyline points="822.0,761.4 817.4,749.3" fill="none" stroke="#8e8e8e" stroke-width="0.7" stroke-linejoin="miter"/>
<polyline points="825.0,759.8 820.4,747.8" fill="none" stroke="#8e8e8e" stroke-width="0.7" stroke-linejoin="miter"/>
<polyline points="828.0,758.2 823.4,746.2" fill="none" stroke="#8e8e8e" stroke-width="0.7" stroke-linejoin="miter"/>
<ellipse cx="828.0" cy="751.0" rx="4.4" ry="8.0" fill="#606060" stroke="#000" stroke-width="1.0" transform="rotate(-27.5 828.0 751.0)"/>
<ellipse cx="828.0" cy="751.0" rx="2.8" ry="5.6" fill="#888" stroke="none" stroke-width="0" transform="rotate(-27.5 828.0 751.0)"/>
<polygon points="764.9,768.2 775.2,762.9 782.3,759.2 793.8,768.8 795.1,783.8 784.8,789.1 777.7,792.8 766.2,783.2" fill="#555" stroke="#000" stroke-width="1.2" stroke-linejoin="round" />
<polyline points="788.0,787.5 795.1,783.8" fill="none" stroke="#000" stroke-width="0.8" stroke-linejoin="miter"/>
<polyline points="786.7,772.5 793.8,768.8" fill="none" stroke="#000" stroke-width="0.8" stroke-linejoin="miter"/>
<polyline points="775.2,762.9 782.3,759.2" fill="none" stroke="#000" stroke-width="0.8" stroke-linejoin="miter"/>
<polyline points="764.9,768.2 772.0,764.5" fill="none" stroke="#000" stroke-width="0.8" stroke-linejoin="miter"/>
<polyline points="766.2,783.2 773.3,779.5" fill="none" stroke="#000" stroke-width="0.8" stroke-linejoin="miter"/>
<polyline points="777.7,792.8 784.8,789.1" fill="none" stroke="#000" stroke-width="0.8" stroke-linejoin="miter"/>
<polygon points="788.0,787.5 786.7,772.5 793.8,768.8 795.1,783.8" fill="#ddd" stroke="#000" stroke-width="0.7" stroke-linejoin="round" opacity="0.8"/>
<polygon points="788.0,787.5 786.7,772.5 775.2,762.9 764.9,768.2 766.2,783.2 777.7,792.8" fill="#7a7a7a" stroke="#000" stroke-width="1.2" stroke-linejoin="round" />
<ellipse cx="841.6" cy="738.6" rx="12.0" ry="16.0" fill="#7c7c7c" stroke="#000" stroke-width="1.3" transform="rotate(-28.0 841.6 738.6)"/>
<ellipse cx="840.0" cy="738.0" rx="12.0" ry="16.0" fill="#7c7c7c" stroke="#000" stroke-width="1.4" transform="rotate(-28.0 840.0 738.0)"/>
<ellipse cx="840.4" cy="738.0" rx="5.4" ry="8.3" fill="#fff" stroke="#000" stroke-width="1.1" transform="rotate(-20.0 840.4 738.0)"/>
<ellipse cx="867.4" cy="726.6" rx="14.0" ry="18.0" fill="#7c7c7c" stroke="#000" stroke-width="1.3" transform="rotate(-28.0 867.4 726.6)"/>
<ellipse cx="865.8" cy="726.0" rx="14.0" ry="18.0" fill="#7c7c7c" stroke="#000" stroke-width="1.4" transform="rotate(-28.0 865.8 726.0)"/>
<ellipse cx="866.2" cy="726.0" rx="6.3" ry="9.4" fill="#fff" stroke="#000" stroke-width="1.1" transform="rotate(-20.0 866.2 726.0)"/>
<polygon points="938.2,745.7 931.8,752.1 923.1,749.8 920.8,741.1 927.2,734.7 935.9,737.0" fill="#353535" stroke="#000" stroke-width="1.8" stroke-linejoin="round" />
<polygon points="922.3,740.2 926.8,736.0 931.3,738.0 929.0,743.4" fill="#8c8c8c" stroke="none" stroke-width="0" stroke-linejoin="round" />
<polygon points="922.1,742.9 928.6,745.4 928.1,750.8 923.2,747.9" fill="#666" stroke="none" stroke-width="0" stroke-linejoin="round" />
<polygon points="932.2,739.4 936.5,741.6 935.8,747.4 931.8,749.7" fill="#444" stroke="none" stroke-width="0" stroke-linejoin="round" />
<polyline points="929.0,743.4 928.4,751.0" fill="none" stroke="#000" stroke-width="1.0" stroke-linejoin="miter"/>
<polyline points="929.0,743.4 936.2,740.7" fill="none" stroke="#000" stroke-width="0.8" stroke-linejoin="miter"/>
<polyline points="933.5,741.1 933.1,748.8" fill="none" stroke="#999" stroke-width="0.8" stroke-linejoin="miter"/>
<ellipse cx="944.6" cy="737.1" rx="5.0" ry="7.0" fill="#383838" stroke="#000" stroke-width="1.3" transform="rotate(-28.0 944.6 737.1)"/>
<ellipse cx="943.0" cy="736.5" rx="5.0" ry="7.0" fill="#383838" stroke="#000" stroke-width="1.4" transform="rotate(-28.0 943.0 736.5)"/>
<ellipse cx="943.0" cy="736.5" rx="3.1" ry="4.3" fill="#666" stroke="none" stroke-width="0" transform="rotate(-28.0 943.0 736.5)"/>
<ellipse cx="943.4" cy="736.5" rx="1.5" ry="2.9" fill="#fff" stroke="#000" stroke-width="1.1" transform="rotate(-20.0 943.4 736.5)"/>
<ellipse cx="955.2" cy="730.2" rx="10.0" ry="11.0" fill="#4a4a4a" stroke="#000" stroke-width="1.3" transform="rotate(-28.0 955.2 730.2)"/>
<ellipse cx="953.6" cy="729.6" rx="10.0" ry="11.0" fill="#4a4a4a" stroke="#000" stroke-width="1.4" transform="rotate(-28.0 953.6 729.6)"/>
<ellipse cx="953.6" cy="729.6" rx="6.2" ry="6.8" fill="#666" stroke="none" stroke-width="0" transform="rotate(-28.0 953.6 729.6)"/>
<ellipse cx="954.0" cy="729.6" rx="3.0" ry="4.6" fill="#fff" stroke="#000" stroke-width="1.1" transform="rotate(-20.0 954.0 729.6)"/>
<ellipse cx="975.9" cy="740.6" rx="8.0" ry="9.0" fill="#383838" stroke="#000" stroke-width="1.3" transform="rotate(-28.0 975.9 740.6)"/>
<ellipse cx="974.3" cy="740.0" rx="8.0" ry="9.0" fill="#383838" stroke="#000" stroke-width="1.4" transform="rotate(-28.0 974.3 740.0)"/>
<ellipse cx="974.3" cy="740.0" rx="5.0" ry="5.6" fill="#666" stroke="none" stroke-width="0" transform="rotate(-28.0 974.3 740.0)"/>
<ellipse cx="974.7" cy="740.0" rx="2.4" ry="3.8" fill="#fff" stroke="#000" stroke-width="1.1" transform="rotate(-20.0 974.7 740.0)"/>
<ellipse cx="993.1" cy="750.6" rx="7.0" ry="8.0" fill="#383838" stroke="#000" stroke-width="1.3" transform="rotate(-28.0 993.1 750.6)"/>
<ellipse cx="991.5" cy="750.0" rx="7.0" ry="8.0" fill="#383838" stroke="#000" stroke-width="1.4" transform="rotate(-28.0 991.5 750.0)"/>
<ellipse cx="991.5" cy="750.0" rx="4.3" ry="5.0" fill="#666" stroke="none" stroke-width="0" transform="rotate(-28.0 991.5 750.0)"/>
<ellipse cx="991.9" cy="750.0" rx="2.1" ry="3.4" fill="#fff" stroke="#000" stroke-width="1.1" transform="rotate(-20.0 991.9 750.0)"/>
<polygon points="1030.5,763.6 1003.5,750.1 998.5,759.9 1025.5,773.4" fill="#8a8a8a" stroke="#000" stroke-width="1.1" stroke-linejoin="round" />
<polygon points="1026.4,761.6 1003.5,750.1 998.5,759.9 1021.5,771.4" fill="#4a4a4a" stroke="#000" stroke-width="1.1" stroke-linejoin="round" />
<polyline points="1023.0,761.1 1017.8,768.3" fill="none" stroke="#8e8e8e" stroke-width="0.7" stroke-linejoin="miter"/>
<polyline points="1020.2,759.7 1014.9,766.9" fill="none" stroke="#8e8e8e" stroke-width="0.7" stroke-linejoin="miter"/>
<polyline points="1017.3,758.2 1012.0,765.4" fill="none" stroke="#8e8e8e" stroke-width="0.7" stroke-linejoin="miter"/>
<polyline points="1014.4,756.8 1009.2,764.0" fill="none" stroke="#8e8e8e" stroke-width="0.7" stroke-linejoin="miter"/>
<polyline points="1011.6,755.4 1006.3,762.6" fill="none" stroke="#8e8e8e" stroke-width="0.7" stroke-linejoin="miter"/>
<polyline points="1008.7,753.9 1003.4,761.1" fill="none" stroke="#8e8e8e" stroke-width="0.7" stroke-linejoin="miter"/>
<polyline points="1005.8,752.5 1000.6,759.7" fill="none" stroke="#8e8e8e" stroke-width="0.7" stroke-linejoin="miter"/>
<ellipse cx="1001.0" cy="755.0" rx="3.0" ry="5.5" fill="#4a4a4a" stroke="#000" stroke-width="1.0" transform="rotate(-153.4 1001.0 755.0)"/>
<ellipse cx="1001.0" cy="755.0" rx="1.9" ry="3.8" fill="#888" stroke="none" stroke-width="0" transform="rotate(-153.4 1001.0 755.0)"/>
<polygon points="1017.1,763.0 1025.1,757.4 1038.7,764.2 1038.9,774.0 1030.9,779.6 1017.3,772.8" fill="#4a4a4a" stroke="#000" stroke-width="1.2" stroke-linejoin="round" />
<polyline points="1030.4,760.0 1025.1,757.4" fill="none" stroke="#000" stroke-width="0.8" stroke-linejoin="miter"/>
<polyline points="1022.5,765.7 1017.1,763.0" fill="none" stroke="#000" stroke-width="0.8" stroke-linejoin="miter"/>
<polyline points="1022.7,775.5 1017.3,772.8" fill="none" stroke="#000" stroke-width="0.8" stroke-linejoin="miter"/>
<polyline points="1030.9,779.6 1025.6,777.0" fill="none" stroke="#000" stroke-width="0.8" stroke-linejoin="miter"/>
<polyline points="1038.9,774.0 1033.5,771.3" fill="none" stroke="#000" stroke-width="0.8" stroke-linejoin="miter"/>
<polyline points="1038.7,764.2 1033.3,761.5" fill="none" stroke="#000" stroke-width="0.8" stroke-linejoin="miter"/>
<polygon points="1030.4,760.0 1022.5,765.7 1017.1,763.0 1025.1,757.4" fill="#aaa" stroke="#000" stroke-width="0.7" stroke-linejoin="round" opacity="0.8"/>
<polygon points="1030.4,760.0 1022.5,765.7 1022.7,775.5 1030.9,779.6 1038.9,774.0 1038.7,764.2" fill="#7a7a7a" stroke="#000" stroke-width="1.2" stroke-linejoin="round" />
<path d="M3,4.4 Q0.5,4.4 0.5,2.2 Q0.5,0 3,0 Q5.5,0 5.5,2.2 Q5.5,4.4 3,4.4 Q0,4.4 0,7.2 Q0,10 3,10 Q6,10 6,7.2 Q6,4.4 3,4.4 Z" transform="translate(48.39,117.20) skewX(-15.1) scale(0.902,1.550)" fill="none" stroke="#000" stroke-width="1.25" vector-effect="non-scaling-stroke" stroke-linecap="round" stroke-linejoin="round"/>
<polyline points="41.7,138.3 53.8,138.3 90.2,166.5" fill="none" stroke="#000" stroke-width="1.0" stroke-linejoin="miter"/>
<polyline points="53.8,138.3 56.3,201.6" fill="none" stroke="#000" stroke-width="1.0" stroke-linejoin="miter"/>
<path d="M1,2.6 L4.2,0 L4.2,10" transform="translate(176.49,115.50) skewX(-15.1) scale(0.774,1.550)" fill="none" stroke="#000" stroke-width="1.25" vector-effect="non-scaling-stroke" stroke-linecap="round" stroke-linejoin="round"/>
<path d="M3,4.4 Q0.5,4.4 0.5,2.2 Q0.5,0 3,0 Q5.5,0 5.5,2.2 Q5.5,4.4 3,4.4 Q0,4.4 0,7.2 Q0,10 3,10 Q6,10 6,7.2 Q6,4.4 3,4.4 Z" transform="translate(183.36,115.50) skewX(-15.1) scale(0.774,1.550)" fill="none" stroke="#000" stroke-width="1.25" vector-effect="non-scaling-stroke" stroke-linecap="round" stroke-linejoin="round"/>
<polyline points="188.0,135.7 167.0,135.7 133.4,190.0" fill="none" stroke="#000" stroke-width="1.0" stroke-linejoin="miter"/>
<path d="M1,2.6 L4.2,0 L4.2,10" transform="translate(206.55,114.50) skewX(-15.1) scale(0.702,1.550)" fill="none" stroke="#000" stroke-width="1.25" vector-effect="non-scaling-stroke" stroke-linecap="round" stroke-linejoin="round"/>
<path d="M5.4,0.8 Q4.6,0 3,0 Q0,0 0,3.6 L0,7 Q0,10 3,10 Q6,10 6,7 Q6,4.4 3,4.4 Q0.6,4.4 0,6" transform="translate(212.79,114.50) skewX(-15.1) scale(0.702,1.550)" fill="none" stroke="#000" stroke-width="1.25" vector-effect="non-scaling-stroke" stroke-linecap="round" stroke-linejoin="round"/>
<polyline points="218.0,134.4 198.0,134.4 207.0,184.0" fill="none" stroke="#000" stroke-width="1.0" stroke-linejoin="miter"/>
<path d="M5.4,0.8 Q4.6,0 3,0 Q0,0 0,3.6 L0,7 Q0,10 3,10 Q6,10 6,7 Q6,4.4 3,4.4 Q0.6,4.4 0,6" transform="translate(257.19,114.50) skewX(-15.1) scale(0.802,1.550)" fill="none" stroke="#000" stroke-width="1.25" vector-effect="non-scaling-stroke" stroke-linecap="round" stroke-linejoin="round"/>
<polyline points="262.0,134.4 249.0,134.4 238.0,168.0" fill="none" stroke="#000" stroke-width="1.0" stroke-linejoin="miter"/>
<path d="M0.2,2.2 Q0.5,0 3,0 Q5.8,0 5.8,2.6 Q5.8,4.2 4.2,5.6 L0,9.4 L0,10 L6,10" transform="translate(283.19,163.50) skewX(-15.1) scale(1.136,1.550)" fill="none" stroke="#000" stroke-width="1.25" vector-effect="non-scaling-stroke" stroke-linecap="round" stroke-linejoin="round"/>
<polyline points="288.0,184.0 276.0,184.0 252.0,222.0" fill="none" stroke="#000" stroke-width="1.0" stroke-linejoin="miter"/>
<path d="M1,2.6 L4.2,0 L4.2,10" transform="translate(308.62,163.50) skewX(-15.1) scale(0.631,1.550)" fill="none" stroke="#000" stroke-width="1.25" vector-effect="non-scaling-stroke" stroke-linecap="round" stroke-linejoin="round"/>
<path d="M5.4,0.8 Q4.6,0 3,0 Q0,0 0,3.6 L0,7 Q0,10 3,10 Q6,10 6,7 Q6,4.4 3,4.4 Q0.6,4.4 0,6" transform="translate(314.22,163.50) skewX(-15.1) scale(0.631,1.550)" fill="none" stroke="#000" stroke-width="1.25" vector-effect="non-scaling-stroke" stroke-linecap="round" stroke-linejoin="round"/>
<polyline points="318.0,184.0 298.0,184.0 288.0,247.0" fill="none" stroke="#000" stroke-width="1.0" stroke-linejoin="miter"/>
<path d="M0,0 L6,0 L6,0.6 Q2.8,4.6 2,10" transform="translate(365.19,161.50) skewX(-15.1) scale(0.802,1.550)" fill="none" stroke="#000" stroke-width="1.25" vector-effect="non-scaling-stroke" stroke-linecap="round" stroke-linejoin="round"/>
<polyline points="367.0,181.0 354.0,181.0 341.0,214.0" fill="none" stroke="#000" stroke-width="1.0" stroke-linejoin="miter"/>
<path d="M1,2.6 L4.2,0 L4.2,10" transform="translate(99.55,193.50) skewX(-15.1) scale(0.702,1.550)" fill="none" stroke="#000" stroke-width="1.25" vector-effect="non-scaling-stroke" stroke-linecap="round" stroke-linejoin="round"/>
<path d="M0.3,0 L5.8,0 L2.4,4.2 L3,4.2 Q6,4.2 6,7.1 Q6,10 3,10 Q0.8,10 0,8.6" transform="translate(105.79,193.50) skewX(-15.1) scale(0.702,1.550)" fill="none" stroke="#000" stroke-width="1.25" vector-effect="non-scaling-stroke" stroke-linecap="round" stroke-linejoin="round"/>
<polyline points="94.0,214.6 113.0,214.6 131.6,231.0" fill="none" stroke="#000" stroke-width="1.0" stroke-linejoin="miter"/>
<path d="M1,2.6 L4.2,0 L4.2,10" transform="translate(48.49,233.50) skewX(-15.1) scale(0.774,1.550)" fill="none" stroke="#000" stroke-width="1.25" vector-effect="non-scaling-stroke" stroke-linecap="round" stroke-linejoin="round"/>
<path d="M4.6,10 L4.6,0 L0,6.8 L0,7.4 L6,7.4" transform="translate(55.36,233.50) skewX(-15.1) scale(0.774,1.550)" fill="none" stroke="#000" stroke-width="1.25" vector-effect="non-scaling-stroke" stroke-linecap="round" stroke-linejoin="round"/>
<polyline points="42.0,254.4 62.4,254.4 85.0,236.4" fill="none" stroke="#000" stroke-width="1.0" stroke-linejoin="miter"/>
<path d="M1,2.6 L4.2,0 L4.2,10" transform="translate(48.42,265.10) skewX(-15.1) scale(0.845,1.550)" fill="none" stroke="#000" stroke-width="1.25" vector-effect="non-scaling-stroke" stroke-linecap="round" stroke-linejoin="round"/>
<path d="M3,4.4 Q0.5,4.4 0.5,2.2 Q0.5,0 3,0 Q5.5,0 5.5,2.2 Q5.5,4.4 3,4.4 Q0,4.4 0,7.2 Q0,10 3,10 Q6,10 6,7.2 Q6,4.4 3,4.4 Z" transform="translate(55.93,265.10) skewX(-15.1) scale(0.845,1.550)" fill="none" stroke="#000" stroke-width="1.25" vector-effect="non-scaling-stroke" stroke-linecap="round" stroke-linejoin="round"/>
<polyline points="41.0,285.0 62.0,285.0 99.0,246.0" fill="none" stroke="#000" stroke-width="1.0" stroke-linejoin="miter"/>
<path d="M1,2.6 L4.2,0 L4.2,10" transform="translate(87.42,265.50) skewX(-15.1) scale(0.845,1.550)" fill="none" stroke="#000" stroke-width="1.25" vector-effect="non-scaling-stroke" stroke-linecap="round" stroke-linejoin="round"/>
<path d="M1,2.6 L4.2,0 L4.2,10" transform="translate(94.17,265.50) skewX(-15.1) scale(0.845,1.550)" fill="none" stroke="#000" stroke-width="1.25" vector-effect="non-scaling-stroke" stroke-linecap="round" stroke-linejoin="round"/>
<polyline points="81.4,285.0 99.0,285.0 118.0,250.0" fill="none" stroke="#000" stroke-width="1.0" stroke-linejoin="miter"/>
<path d="M1,2.6 L4.2,0 L4.2,10" transform="translate(129.89,252.50) skewX(-15.1) scale(0.881,1.550)" fill="none" stroke="#000" stroke-width="1.25" vector-effect="non-scaling-stroke" stroke-linecap="round" stroke-linejoin="round"/>
<path d="M0,0 L6,0 L6,0.6 Q2.8,4.6 2,10" transform="translate(137.71,252.50) skewX(-15.1) scale(0.881,1.550)" fill="none" stroke="#000" stroke-width="1.25" vector-effect="non-scaling-stroke" stroke-linecap="round" stroke-linejoin="round"/>
<polyline points="123.0,272.5 143.0,272.5 147.0,238.0" fill="none" stroke="#000" stroke-width="1.0" stroke-linejoin="miter"/>
<path d="M1,2.6 L4.2,0 L4.2,10" transform="translate(67.42,361.90) skewX(-15.1) scale(0.845,1.550)" fill="none" stroke="#000" stroke-width="1.25" vector-effect="non-scaling-stroke" stroke-linecap="round" stroke-linejoin="round"/>
<path d="M1.5,0 L4.5,0 Q6,0 6,1.8 L6,8.2 Q6,10 4.5,10 L1.5,10 Q0,10 0,8.2 L0,1.8 Q0,0 1.5,0 Z" transform="translate(74.93,361.90) skewX(-15.1) scale(0.845,1.550)" fill="none" stroke="#000" stroke-width="1.25" vector-effect="non-scaling-stroke" stroke-linecap="round" stroke-linejoin="round"/>
<polyline points="77.6,381.8 55.0,381.8 44.4,366.0" fill="none" stroke="#000" stroke-width="1.0" stroke-linejoin="miter"/>
<path d="M1,2.6 L4.2,0 L4.2,10" transform="translate(97.36,361.90) skewX(-15.1) scale(0.917,1.550)" fill="none" stroke="#000" stroke-width="1.25" vector-effect="non-scaling-stroke" stroke-linecap="round" stroke-linejoin="round"/>
<path d="M5.6,0 L0.8,0 L0.4,4.6 Q1.6,4 3.2,4 Q6,4 6,7 Q6,10 3,10 Q0.8,10 0,8.6" transform="translate(105.50,361.90) skewX(-15.1) scale(0.917,1.550)" fill="none" stroke="#000" stroke-width="1.25" vector-effect="non-scaling-stroke" stroke-linecap="round" stroke-linejoin="round"/>
<polyline points="109.7,381.8 92.0,381.8 97.5,326.0" fill="none" stroke="#000" stroke-width="1.0" stroke-linejoin="miter"/>
<path d="M1,2.6 L4.2,0 L4.2,10" transform="translate(126.31,361.90) skewX(-15.1) scale(0.967,1.550)" fill="none" stroke="#000" stroke-width="1.25" vector-effect="non-scaling-stroke" stroke-linecap="round" stroke-linejoin="round"/>
<path d="M0.6,9.2 Q1.4,10 3,10 Q6,10 6,6.4 L6,3 Q6,0 3,0 Q0,0 0,2.8 Q0,5.6 3,5.6 Q5.4,5.6 6,4" transform="translate(134.90,361.90) skewX(-15.1) scale(0.967,1.550)" fill="none" stroke="#000" stroke-width="1.25" vector-effect="non-scaling-stroke" stroke-linecap="round" stroke-linejoin="round"/>
<polyline points="140.7,381.8 122.0,381.8 128.5,315.0" fill="none" stroke="#000" stroke-width="1.0" stroke-linejoin="miter"/>
<path d="M1,2.6 L4.2,0 L4.2,10" transform="translate(159.36,361.90) skewX(-15.1) scale(0.917,1.550)" fill="none" stroke="#000" stroke-width="1.25" vector-effect="non-scaling-stroke" stroke-linecap="round" stroke-linejoin="round"/>
<path d="M1,2.6 L4.2,0 L4.2,10" transform="translate(166.68,361.90) skewX(-15.1) scale(0.917,1.550)" fill="none" stroke="#000" stroke-width="1.25" vector-effect="non-scaling-stroke" stroke-linecap="round" stroke-linejoin="round"/>
<polyline points="154.0,381.8 172.8,381.8 185.0,326.5" fill="none" stroke="#000" stroke-width="1.0" stroke-linejoin="miter"/>
<path d="M1,2.6 L4.2,0 L4.2,10" transform="translate(206.17,361.90) skewX(-15.1) scale(0.795,1.550)" fill="none" stroke="#000" stroke-width="1.25" vector-effect="non-scaling-stroke" stroke-linecap="round" stroke-linejoin="round"/>
<path d="M0.3,0 L5.8,0 L2.4,4.2 L3,4.2 Q6,4.2 6,7.1 Q6,10 3,10 Q0.8,10 0,8.6" transform="translate(213.23,361.90) skewX(-15.1) scale(0.795,1.550)" fill="none" stroke="#000" stroke-width="1.25" vector-effect="non-scaling-stroke" stroke-linecap="round" stroke-linejoin="round"/>
<polyline points="217.0,381.8 199.0,381.8 199.4,317.0" fill="none" stroke="#000" stroke-width="1.0" stroke-linejoin="miter"/>
<path d="M1,2.6 L4.2,0 L4.2,10" transform="translate(241.04,361.90) skewX(-15.1) scale(1.274,1.550)" fill="none" stroke="#000" stroke-width="1.25" vector-effect="non-scaling-stroke" stroke-linecap="round" stroke-linejoin="round"/>
<path d="M0,0 L6,0 L6,0.6 Q2.8,4.6 2,10" transform="translate(252.35,361.90) skewX(-15.1) scale(1.274,1.550)" fill="none" stroke="#000" stroke-width="1.25" vector-effect="non-scaling-stroke" stroke-linecap="round" stroke-linejoin="round"/>
<polyline points="257.0,381.8 238.0,381.8 212.6,314.0" fill="none" stroke="#000" stroke-width="1.0" stroke-linejoin="miter"/>
<path d="M1,2.6 L4.2,0 L4.2,10" transform="translate(379.49,253.50) skewX(-15.1) scale(0.774,1.550)" fill="none" stroke="#000" stroke-width="1.25" vector-effect="non-scaling-stroke" stroke-linecap="round" stroke-linejoin="round"/>
<path d="M3,4.4 Q0.5,4.4 0.5,2.2 Q0.5,0 3,0 Q5.5,0 5.5,2.2 Q5.5,4.4 3,4.4 Q0,4.4 0,7.2 Q0,10 3,10 Q6,10 6,7.2 Q6,4.4 3,4.4 Z" transform="translate(386.36,253.50) skewX(-15.1) scale(0.774,1.550)" fill="none" stroke="#000" stroke-width="1.25" vector-effect="non-scaling-stroke" stroke-linecap="round" stroke-linejoin="round"/>
<polyline points="389.0,272.5 363.0,272.5 340.0,302.0" fill="none" stroke="#000" stroke-width="1.0" stroke-linejoin="miter"/>
<path d="M1,2.6 L4.2,0 L4.2,10" transform="translate(414.96,253.50) skewX(-15.1) scale(0.917,1.550)" fill="none" stroke="#000" stroke-width="1.25" vector-effect="non-scaling-stroke" stroke-linecap="round" stroke-linejoin="round"/>
<path d="M0.2,2.2 Q0.5,0 3,0 Q5.8,0 5.8,2.6 Q5.8,4.2 4.2,5.6 L0,9.4 L0,10 L6,10" transform="translate(423.10,253.50) skewX(-15.1) scale(0.917,1.550)" fill="none" stroke="#000" stroke-width="1.25" vector-effect="non-scaling-stroke" stroke-linecap="round" stroke-linejoin="round"/>
<polyline points="428.6,271.4 408.0,271.4 366.0,315.0" fill="none" stroke="#000" stroke-width="1.0" stroke-linejoin="miter"/>
<path d="M1,2.6 L4.2,0 L4.2,10" transform="translate(467.07,358.50) skewX(-15.1) scale(1.236,1.550)" fill="none" stroke="#000" stroke-width="1.25" vector-effect="non-scaling-stroke" stroke-linecap="round" stroke-linejoin="round"/>
<polyline points="472.0,376.0 455.0,376.0 417.0,413.5" fill="none" stroke="#000" stroke-width="1.0" stroke-linejoin="miter"/>
<path d="M1,2.6 L4.2,0 L4.2,10" transform="translate(352.97,473.20) skewX(-15.1) scale(0.910,1.550)" fill="none" stroke="#000" stroke-width="1.25" vector-effect="non-scaling-stroke" stroke-linecap="round" stroke-linejoin="round"/>
<path d="M0.2,2.2 Q0.5,0 3,0 Q5.8,0 5.8,2.6 Q5.8,4.2 4.2,5.6 L0,9.4 L0,10 L6,10" transform="translate(361.04,473.20) skewX(-15.1) scale(0.910,1.550)" fill="none" stroke="#000" stroke-width="1.25" vector-effect="non-scaling-stroke" stroke-linecap="round" stroke-linejoin="round"/>
<polyline points="346.0,492.5 374.0,492.5" fill="none" stroke="#000" stroke-width="1.0" stroke-linejoin="miter"/>
<polyline points="367.5,492.5 368.8,533.0" fill="none" stroke="#000" stroke-width="1.0" stroke-linejoin="miter"/>
<polyline points="367.5,492.5 402.5,520.0" fill="none" stroke="#000" stroke-width="1.0" stroke-linejoin="miter"/>
<path d="M4.6,10 L4.6,0 L0,6.8 L0,7.4 L6,7.4" transform="translate(442.94,507.00) skewX(-15.1) scale(0.511,1.550)" fill="none" stroke="#000" stroke-width="1.25" vector-effect="non-scaling-stroke" stroke-linecap="round" stroke-linejoin="round"/>
<polyline points="447.5,527.0 433.8,527.0 420.0,582.5" fill="none" stroke="#000" stroke-width="1.0" stroke-linejoin="miter"/>
<path d="M1,2.6 L4.2,0 L4.2,10" transform="translate(467.24,507.00) skewX(-15.1) scale(0.774,1.550)" fill="none" stroke="#000" stroke-width="1.25" vector-effect="non-scaling-stroke" stroke-linecap="round" stroke-linejoin="round"/>
<path d="M3,4.4 Q0.5,4.4 0.5,2.2 Q0.5,0 3,0 Q5.5,0 5.5,2.2 Q5.5,4.4 3,4.4 Q0,4.4 0,7.2 Q0,10 3,10 Q6,10 6,7.2 Q6,4.4 3,4.4 Z" transform="translate(474.11,507.00) skewX(-15.1) scale(0.774,1.550)" fill="none" stroke="#000" stroke-width="1.25" vector-effect="non-scaling-stroke" stroke-linecap="round" stroke-linejoin="round"/>
<polyline points="478.8,528.0 458.8,528.0 461.0,549.0" fill="none" stroke="#000" stroke-width="1.0" stroke-linejoin="miter"/>
<path d="M5.6,0 L0.8,0 L0.4,4.6 Q1.6,4 3.2,4 Q6,4 6,7 Q6,10 3,10 Q0.8,10 0,8.6" transform="translate(315.19,566.10) skewX(-15.1) scale(0.969,1.550)" fill="none" stroke="#000" stroke-width="1.25" vector-effect="non-scaling-stroke" stroke-linecap="round" stroke-linejoin="round"/>
<polyline points="318.8,587.0 306.4,587.0 300.8,631.0" fill="none" stroke="#000" stroke-width="1.0" stroke-linejoin="miter"/>
<path d="M1,2.6 L4.2,0 L4.2,10" transform="translate(628.17,579.50) skewX(-15.1) scale(0.688,1.550)" fill="none" stroke="#000" stroke-width="1.25" vector-effect="non-scaling-stroke" stroke-linecap="round" stroke-linejoin="round"/>
<path d="M3,4.4 Q0.5,4.4 0.5,2.2 Q0.5,0 3,0 Q5.5,0 5.5,2.2 Q5.5,4.4 3,4.4 Q0,4.4 0,7.2 Q0,10 3,10 Q6,10 6,7.2 Q6,4.4 3,4.4 Z" transform="translate(634.27,579.50) skewX(-15.1) scale(0.688,1.550)" fill="none" stroke="#000" stroke-width="1.25" vector-effect="non-scaling-stroke" stroke-linecap="round" stroke-linejoin="round"/>
<polyline points="637.3,601.5 616.0,601.5 589.0,621.0" fill="none" stroke="#000" stroke-width="1.0" stroke-linejoin="miter"/>
<path d="M1,2.6 L4.2,0 L4.2,10" transform="translate(505.49,673.10) skewX(-15.1) scale(0.774,1.550)" fill="none" stroke="#000" stroke-width="1.25" vector-effect="non-scaling-stroke" stroke-linecap="round" stroke-linejoin="round"/>
<path d="M3,4.4 Q0.5,4.4 0.5,2.2 Q0.5,0 3,0 Q5.5,0 5.5,2.2 Q5.5,4.4 3,4.4 Q0,4.4 0,7.2 Q0,10 3,10 Q6,10 6,7.2 Q6,4.4 3,4.4 Z" transform="translate(512.36,673.10) skewX(-15.1) scale(0.774,1.550)" fill="none" stroke="#000" stroke-width="1.25" vector-effect="non-scaling-stroke" stroke-linecap="round" stroke-linejoin="round"/>
<polyline points="499.0,693.5 518.3,693.5 541.0,651.0" fill="none" stroke="#000" stroke-width="1.0" stroke-linejoin="miter"/>
<path d="M0.6,9.2 Q1.4,10 3,10 Q6,10 6,6.4 L6,3 Q6,0 3,0 Q0,0 0,2.8 Q0,5.6 3,5.6 Q5.4,5.6 6,4" transform="translate(698.88,674.20) skewX(-15.1) scale(0.719,1.550)" fill="none" stroke="#000" stroke-width="1.25" vector-effect="non-scaling-stroke" stroke-linecap="round" stroke-linejoin="round"/>
<polyline points="702.0,694.0 688.3,694.0 620.3,687.5" fill="none" stroke="#000" stroke-width="1.0" stroke-linejoin="miter"/>
<polyline points="688.3,694.0 656.4,671.6" fill="none" stroke="#000" stroke-width="1.0" stroke-linejoin="miter"/>
<path d="M1,2.6 L4.2,0 L4.2,10" transform="translate(739.45,538.50) skewX(-15.1) scale(0.817,1.550)" fill="none" stroke="#000" stroke-width="1.25" vector-effect="non-scaling-stroke" stroke-linecap="round" stroke-linejoin="round"/>
<path d="M0.2,2.2 Q0.5,0 3,0 Q5.8,0 5.8,2.6 Q5.8,4.2 4.2,5.6 L0,9.4 L0,10 L6,10" transform="translate(746.70,538.50) skewX(-15.1) scale(0.817,1.550)" fill="none" stroke="#000" stroke-width="1.25" vector-effect="non-scaling-stroke" stroke-linecap="round" stroke-linejoin="round"/>
<polyline points="732.0,558.5 762.6,558.5 767.0,560.0" fill="none" stroke="#000" stroke-width="1.0" stroke-linejoin="miter"/>
<path d="M1,2.6 L4.2,0 L4.2,10" transform="translate(829.55,538.50) skewX(-15.1) scale(0.702,1.550)" fill="none" stroke="#000" stroke-width="1.25" vector-effect="non-scaling-stroke" stroke-linecap="round" stroke-linejoin="round"/>
<path d="M3,4.4 Q0.5,4.4 0.5,2.2 Q0.5,0 3,0 Q5.5,0 5.5,2.2 Q5.5,4.4 3,4.4 Q0,4.4 0,7.2 Q0,10 3,10 Q6,10 6,7.2 Q6,4.4 3,4.4 Z" transform="translate(835.79,538.50) skewX(-15.1) scale(0.702,1.550)" fill="none" stroke="#000" stroke-width="1.25" vector-effect="non-scaling-stroke" stroke-linecap="round" stroke-linejoin="round"/>
<polyline points="840.0,558.5 816.0,558.5 800.0,568.0" fill="none" stroke="#000" stroke-width="1.0" stroke-linejoin="miter"/>
<path d="M1,2.6 L4.2,0 L4.2,10" transform="translate(944.38,538.50) skewX(-15.1) scale(0.895,1.550)" fill="none" stroke="#000" stroke-width="1.25" vector-effect="non-scaling-stroke" stroke-linecap="round" stroke-linejoin="round"/>
<path d="M5.4,0.8 Q4.6,0 3,0 Q0,0 0,3.6 L0,7 Q0,10 3,10 Q6,10 6,7 Q6,4.4 3,4.4 Q0.6,4.4 0,6" transform="translate(952.33,538.50) skewX(-15.1) scale(0.895,1.550)" fill="none" stroke="#000" stroke-width="1.25" vector-effect="non-scaling-stroke" stroke-linecap="round" stroke-linejoin="round"/>
<polyline points="938.5,558.0 957.7,558.0 958.0,613.0" fill="none" stroke="#000" stroke-width="1.0" stroke-linejoin="miter"/>
<path d="M0,0 L6,0 L6,0.6 Q2.8,4.6 2,10" transform="translate(1048.98,538.50) skewX(-15.1) scale(0.786,1.550)" fill="none" stroke="#000" stroke-width="1.25" vector-effect="non-scaling-stroke" stroke-linecap="round" stroke-linejoin="round"/>
<polyline points="1051.0,558.0 1037.0,558.0 1014.0,585.0" fill="none" stroke="#000" stroke-width="1.0" stroke-linejoin="miter"/>
<path d="M0.3,0 L5.8,0 L2.4,4.2 L3,4.2 Q6,4.2 6,7.1 Q6,10 3,10 Q0.8,10 0,8.6" transform="translate(1098.88,538.50) skewX(-15.1) scale(0.786,1.550)" fill="none" stroke="#000" stroke-width="1.25" vector-effect="non-scaling-stroke" stroke-linecap="round" stroke-linejoin="round"/>
<polyline points="1103.6,558.0 1089.5,558.0 996.0,655.4" fill="none" stroke="#000" stroke-width="1.0" stroke-linejoin="miter"/>
<path d="M1,2.6 L4.2,0 L4.2,10" transform="translate(1091.55,590.00) skewX(-15.1) scale(0.702,1.550)" fill="none" stroke="#000" stroke-width="1.25" vector-effect="non-scaling-stroke" stroke-linecap="round" stroke-linejoin="round"/>
<path d="M5.4,0.8 Q4.6,0 3,0 Q0,0 0,3.6 L0,7 Q0,10 3,10 Q6,10 6,7 Q6,4.4 3,4.4 Q0.6,4.4 0,6" transform="translate(1097.79,590.00) skewX(-15.1) scale(0.702,1.550)" fill="none" stroke="#000" stroke-width="1.25" vector-effect="non-scaling-stroke" stroke-linecap="round" stroke-linejoin="round"/>
<polyline points="1102.0,610.6 1082.0,610.6 1031.0,680.0" fill="none" stroke="#000" stroke-width="1.0" stroke-linejoin="miter"/>
<path d="M5.4,0.8 Q4.6,0 3,0 Q0,0 0,3.6 L0,7 Q0,10 3,10 Q6,10 6,7 Q6,4.4 3,4.4 Q0.6,4.4 0,6" transform="translate(1095.18,624.50) skewX(-15.1) scale(0.802,1.550)" fill="none" stroke="#000" stroke-width="1.25" vector-effect="non-scaling-stroke" stroke-linecap="round" stroke-linejoin="round"/>
<polyline points="1100.0,644.0 1085.7,644.0 1068.0,662.0" fill="none" stroke="#000" stroke-width="1.0" stroke-linejoin="miter"/>
<path d="M1,2.6 L4.2,0 L4.2,10" transform="translate(1090.49,657.80) skewX(-15.1) scale(0.774,1.550)" fill="none" stroke="#000" stroke-width="1.25" vector-effect="non-scaling-stroke" stroke-linecap="round" stroke-linejoin="round"/>
<path d="M3,4.4 Q0.5,4.4 0.5,2.2 Q0.5,0 3,0 Q5.5,0 5.5,2.2 Q5.5,4.4 3,4.4 Q0,4.4 0,7.2 Q0,10 3,10 Q6,10 6,7.2 Q6,4.4 3,4.4 Z" transform="translate(1097.36,657.80) skewX(-15.1) scale(0.774,1.550)" fill="none" stroke="#000" stroke-width="1.25" vector-effect="non-scaling-stroke" stroke-linecap="round" stroke-linejoin="round"/>
<polyline points="1102.0,677.0 1083.0,677.0 1032.0,703.0" fill="none" stroke="#000" stroke-width="1.0" stroke-linejoin="miter"/>
<path d="M1,2.6 L4.2,0 L4.2,10" transform="translate(757.15,653.50) skewX(-15.1) scale(0.931,1.550)" fill="none" stroke="#000" stroke-width="1.25" vector-effect="non-scaling-stroke" stroke-linecap="round" stroke-linejoin="round"/>
<path d="M0,0 L6,0 L6,0.6 Q2.8,4.6 2,10" transform="translate(765.41,653.50) skewX(-15.1) scale(0.931,1.550)" fill="none" stroke="#000" stroke-width="1.25" vector-effect="non-scaling-stroke" stroke-linecap="round" stroke-linejoin="round"/>
<polyline points="750.0,672.7 771.0,672.7 828.0,681.0" fill="none" stroke="#000" stroke-width="1.0" stroke-linejoin="miter"/>
<path d="M1,2.6 L4.2,0 L4.2,10" transform="translate(757.28,681.50) skewX(-15.1) scale(0.788,1.550)" fill="none" stroke="#000" stroke-width="1.25" vector-effect="non-scaling-stroke" stroke-linecap="round" stroke-linejoin="round"/>
<path d="M0.3,0 L5.8,0 L2.4,4.2 L3,4.2 Q6,4.2 6,7.1 Q6,10 3,10 Q0.8,10 0,8.6" transform="translate(764.27,681.50) skewX(-15.1) scale(0.788,1.550)" fill="none" stroke="#000" stroke-width="1.25" vector-effect="non-scaling-stroke" stroke-linecap="round" stroke-linejoin="round"/>
<polyline points="750.0,700.0 769.0,700.0 820.0,693.4" fill="none" stroke="#000" stroke-width="1.0" stroke-linejoin="miter"/>
<path d="M1,2.6 L4.2,0 L4.2,10" transform="translate(757.28,710.50) skewX(-15.1) scale(0.788,1.550)" fill="none" stroke="#000" stroke-width="1.25" vector-effect="non-scaling-stroke" stroke-linecap="round" stroke-linejoin="round"/>
<path d="M1,2.6 L4.2,0 L4.2,10" transform="translate(763.56,710.50) skewX(-15.1) scale(0.788,1.550)" fill="none" stroke="#000" stroke-width="1.25" vector-effect="non-scaling-stroke" stroke-linecap="round" stroke-linejoin="round"/>
<polyline points="750.0,730.0 769.0,730.0 806.0,707.0" fill="none" stroke="#000" stroke-width="1.0" stroke-linejoin="miter"/>
<path d="M1,2.6 L4.2,0 L4.2,10" transform="translate(757.28,738.20) skewX(-15.1) scale(0.788,1.550)" fill="none" stroke="#000" stroke-width="1.25" vector-effect="non-scaling-stroke" stroke-linecap="round" stroke-linejoin="round"/>
<path d="M1.5,0 L4.5,0 Q6,0 6,1.8 L6,8.2 Q6,10 4.5,10 L1.5,10 Q0,10 0,8.2 L0,1.8 Q0,0 1.5,0 Z" transform="translate(764.27,738.20) skewX(-15.1) scale(0.788,1.550)" fill="none" stroke="#000" stroke-width="1.25" vector-effect="non-scaling-stroke" stroke-linecap="round" stroke-linejoin="round"/>
<polyline points="748.6,758.0 768.5,758.0 774.0,762.0" fill="none" stroke="#000" stroke-width="1.0" stroke-linejoin="miter"/>
<path d="M1,2.6 L4.2,0 L4.2,10" transform="translate(917.36,710.50) skewX(-15.1) scale(0.917,1.550)" fill="none" stroke="#000" stroke-width="1.25" vector-effect="non-scaling-stroke" stroke-linecap="round" stroke-linejoin="round"/>
<path d="M0,0 L6,0 L6,0.6 Q2.8,4.6 2,10" transform="translate(925.50,710.50) skewX(-15.1) scale(0.917,1.550)" fill="none" stroke="#000" stroke-width="1.25" vector-effect="non-scaling-stroke" stroke-linecap="round" stroke-linejoin="round"/>
<polyline points="912.0,730.0 943.0,730.0 950.0,725.0" fill="none" stroke="#000" stroke-width="1.0" stroke-linejoin="miter"/>
<path d="M1,2.6 L4.2,0 L4.2,10" transform="translate(820.84,764.10) skewX(-15.1) scale(0.938,1.550)" fill="none" stroke="#000" stroke-width="1.25" vector-effect="non-scaling-stroke" stroke-linecap="round" stroke-linejoin="round"/>
<path d="M5.6,0 L0.8,0 L0.4,4.6 Q1.6,4 3.2,4 Q6,4 6,7 Q6,10 3,10 Q0.8,10 0,8.6" transform="translate(829.17,764.10) skewX(-15.1) scale(0.938,1.550)" fill="none" stroke="#000" stroke-width="1.25" vector-effect="non-scaling-stroke" stroke-linecap="round" stroke-linejoin="round"/>
<polyline points="810.6,784.7 834.8,784.7 843.4,753.7" fill="none" stroke="#000" stroke-width="1.0" stroke-linejoin="miter"/>
<path d="M1,2.6 L4.2,0 L4.2,10" transform="translate(848.23,764.10) skewX(-15.1) scale(1.060,1.550)" fill="none" stroke="#000" stroke-width="1.25" vector-effect="non-scaling-stroke" stroke-linecap="round" stroke-linejoin="round"/>
<path d="M0.6,9.2 Q1.4,10 3,10 Q6,10 6,6.4 L6,3 Q6,0 3,0 Q0,0 0,2.8 Q0,5.6 3,5.6 Q5.4,5.6 6,4" transform="translate(857.64,764.10) skewX(-15.1) scale(1.060,1.550)" fill="none" stroke="#000" stroke-width="1.25" vector-effect="non-scaling-stroke" stroke-linecap="round" stroke-linejoin="round"/>
<polyline points="843.4,784.7 865.8,784.7 869.0,744.0" fill="none" stroke="#000" stroke-width="1.0" stroke-linejoin="miter"/>
<path d="M1,2.6 L4.2,0 L4.2,10" transform="translate(881.36,764.10) skewX(-15.1) scale(0.917,1.550)" fill="none" stroke="#000" stroke-width="1.25" vector-effect="non-scaling-stroke" stroke-linecap="round" stroke-linejoin="round"/>
<path d="M1,2.6 L4.2,0 L4.2,10" transform="translate(888.67,764.10) skewX(-15.1) scale(0.917,1.550)" fill="none" stroke="#000" stroke-width="1.25" vector-effect="non-scaling-stroke" stroke-linecap="round" stroke-linejoin="round"/>
<polyline points="874.0,784.7 897.0,784.7 926.0,751.0" fill="none" stroke="#000" stroke-width="1.0" stroke-linejoin="miter"/>
<path d="M1,2.6 L4.2,0 L4.2,10" transform="translate(912.36,764.10) skewX(-15.1) scale(0.917,1.550)" fill="none" stroke="#000" stroke-width="1.25" vector-effect="non-scaling-stroke" stroke-linecap="round" stroke-linejoin="round"/>
<path d="M0.3,0 L5.8,0 L2.4,4.2 L3,4.2 Q6,4.2 6,7.1 Q6,10 3,10 Q0.8,10 0,8.6" transform="translate(920.50,764.10) skewX(-15.1) scale(0.917,1.550)" fill="none" stroke="#000" stroke-width="1.25" vector-effect="non-scaling-stroke" stroke-linecap="round" stroke-linejoin="round"/>
<polyline points="909.0,784.7 926.0,784.7 943.0,742.0" fill="none" stroke="#000" stroke-width="1.0" stroke-linejoin="miter"/>
<path d="M1,2.6 L4.2,0 L4.2,10" transform="translate(941.23,764.10) skewX(-15.1) scale(1.060,1.550)" fill="none" stroke="#000" stroke-width="1.25" vector-effect="non-scaling-stroke" stroke-linecap="round" stroke-linejoin="round"/>
<path d="M3,4.4 Q0.5,4.4 0.5,2.2 Q0.5,0 3,0 Q5.5,0 5.5,2.2 Q5.5,4.4 3,4.4 Q0,4.4 0,7.2 Q0,10 3,10 Q6,10 6,7.2 Q6,4.4 3,4.4 Z" transform="translate(950.64,764.10) skewX(-15.1) scale(1.060,1.550)" fill="none" stroke="#000" stroke-width="1.25" vector-effect="non-scaling-stroke" stroke-linecap="round" stroke-linejoin="round"/>
<polyline points="936.0,784.7 957.0,784.7 971.0,748.0" fill="none" stroke="#000" stroke-width="1.0" stroke-linejoin="miter"/>
<path d="M1,2.6 L4.2,0 L4.2,10" transform="translate(970.23,764.10) skewX(-15.1) scale(1.060,1.550)" fill="none" stroke="#000" stroke-width="1.25" vector-effect="non-scaling-stroke" stroke-linecap="round" stroke-linejoin="round"/>
<path d="M4.6,10 L4.6,0 L0,6.8 L0,7.4 L6,7.4" transform="translate(979.64,764.10) skewX(-15.1) scale(1.060,1.550)" fill="none" stroke="#000" stroke-width="1.25" vector-effect="non-scaling-stroke" stroke-linecap="round" stroke-linejoin="round"/>
<polyline points="964.0,784.7 986.0,784.7 990.0,757.0" fill="none" stroke="#000" stroke-width="1.0" stroke-linejoin="miter"/>
<path d="M3,4.4 Q0.5,4.4 0.5,2.2 Q0.5,0 3,0 Q5.5,0 5.5,2.2 Q5.5,4.4 3,4.4 Q0,4.4 0,7.2 Q0,10 3,10 Q6,10 6,7.2 Q6,4.4 3,4.4 Z" transform="translate(1098.98,720.20) skewX(-15.1) scale(0.836,1.550)" fill="none" stroke="#000" stroke-width="1.25" vector-effect="non-scaling-stroke" stroke-linecap="round" stroke-linejoin="round"/>
<polyline points="1104.0,740.0 1091.0,740.0 1069.0,732.6" fill="none" stroke="#000" stroke-width="1.0" stroke-linejoin="miter"/>
<polyline points="1091.0,740.0 1036.0,769.0" fill="none" stroke="#000" stroke-width="1.0" stroke-linejoin="miter"/>
<g stroke="#000" stroke-width="1.3" fill="none">
<rect x="638.5" y="15.5" width="470.0" height="500.0"/>
<line x1="638.5" y1="40.5" x2="1108.5" y2="40.5"/>
<line x1="638.5" y1="65.5" x2="1108.5" y2="65.5"/>
<line x1="638.5" y1="90.5" x2="1108.5" y2="90.5"/>
<line x1="638.5" y1="115.5" x2="1108.5" y2="115.5"/>
<line x1="638.5" y1="140.5" x2="1108.5" y2="140.5"/>
<line x1="638.5" y1="165.5" x2="1108.5" y2="165.5"/>
<line x1="638.5" y1="190.5" x2="1108.5" y2="190.5"/>
<line x1="638.5" y1="215.5" x2="1108.5" y2="215.5"/>
<line x1="638.5" y1="240.5" x2="1108.5" y2="240.5"/>
<line x1="638.5" y1="265.5" x2="1108.5" y2="265.5"/>
<line x1="638.5" y1="290.5" x2="1108.5" y2="290.5"/>
<line x1="638.5" y1="315.5" x2="1108.5" y2="315.5"/>
<line x1="638.5" y1="340.5" x2="1108.5" y2="340.5"/>
<line x1="638.5" y1="365.5" x2="1108.5" y2="365.5"/>
<line x1="638.5" y1="390.5" x2="1108.5" y2="390.5"/>
<line x1="638.5" y1="415.5" x2="1108.5" y2="415.5"/>
<line x1="638.5" y1="440.5" x2="1108.5" y2="440.5"/>
<line x1="638.5" y1="465.5" x2="1108.5" y2="465.5"/>
<line x1="638.5" y1="490.5" x2="1108.5" y2="490.5"/>
<line x1="686" y1="15.5" x2="686" y2="515.5"/>
<line x1="987.5" y1="15.5" x2="987.5" y2="515.5"/>
</g>
<g font-family="Liberation Sans" font-size="23.5" fill="#000">
<text transform="scale(0.8,1)" x="804.62" y="36.8" font-size="23.5" textLength="45.00" lengthAdjust="spacing">Поз.</text>
<text transform="scale(0.68,1)" x="1125.00" y="36.6" font-size="23.5" textLength="209.56" lengthAdjust="spacing">НАИМЕНОВАНИЕ</text>
<text transform="scale(0.8,1)" x="1284.62" y="36.7" font-size="23.5" textLength="50.25" lengthAdjust="spacing">К–во</text>
<text transform="scale(0.8,1)" x="822.50" y="62.0" font-size="23.5" textLength="10.62" lengthAdjust="spacing">1</text>
<text transform="scale(0.8,1)" x="860.75" y="62.0" font-size="23.5" textLength="120.75" lengthAdjust="spacing">Балка ТСУ</text>
<text transform="scale(0.8,1)" x="1304.38" y="62.0" font-size="23.5" textLength="11.25" lengthAdjust="spacing">1</text>
<text transform="scale(0.8,1)" x="822.50" y="87.0" font-size="23.5" textLength="10.62" lengthAdjust="spacing">2</text>
<text transform="scale(0.8,1)" x="860.75" y="87.0" font-size="23.5" textLength="206.38" lengthAdjust="spacing">Кронштейн левый</text>
<text transform="scale(0.8,1)" x="1304.38" y="87.0" font-size="23.5" textLength="11.25" lengthAdjust="spacing">1</text>
<text transform="scale(0.8,1)" x="822.50" y="112.0" font-size="23.5" textLength="10.62" lengthAdjust="spacing">3</text>
<text transform="scale(0.8,1)" x="860.75" y="112.0" font-size="23.5" textLength="222.75" lengthAdjust="spacing">Кронштейн правый</text>
<text transform="scale(0.8,1)" x="1304.38" y="112.0" font-size="23.5" textLength="11.25" lengthAdjust="spacing">1</text>
<text transform="scale(0.8,1)" x="822.50" y="137.0" font-size="23.5" textLength="10.62" lengthAdjust="spacing">4</text>
<text transform="scale(0.8,1)" x="860.75" y="137.0" font-size="23.5" textLength="228.37" lengthAdjust="spacing">Подрозетник тип А</text>
<text transform="scale(0.8,1)" x="1304.38" y="137.0" font-size="23.5" textLength="11.25" lengthAdjust="spacing">1</text>
<text transform="scale(0.8,1)" x="822.50" y="162.0" font-size="23.5" textLength="10.62" lengthAdjust="spacing">5</text>
<text transform="scale(0.8,1)" x="860.75" y="162.0" font-size="23.5" textLength="128.88" lengthAdjust="spacing">Шар SH27A</text>
<text transform="scale(0.8,1)" x="1304.38" y="162.0" font-size="23.5" textLength="11.25" lengthAdjust="spacing">1</text>
<text transform="scale(0.8,1)" x="822.50" y="187.0" font-size="23.5" textLength="10.62" lengthAdjust="spacing">6</text>
<text transform="scale(0.8,1)" x="860.75" y="187.0" font-size="23.5" textLength="152.25" lengthAdjust="spacing">Болт M10x30</text>
<text transform="scale(0.8,1)" x="1304.38" y="187.0" font-size="23.5" textLength="11.25" lengthAdjust="spacing">2</text>
<text transform="scale(0.8,1)" x="822.50" y="212.0" font-size="23.5" textLength="10.62" lengthAdjust="spacing">7</text>
<text transform="scale(0.8,1)" x="860.75" y="212.0" font-size="23.5" textLength="152.75" lengthAdjust="spacing">Болт M10x60</text>
<text transform="scale(0.8,1)" x="1304.38" y="212.0" font-size="23.5" textLength="11.25" lengthAdjust="spacing">2</text>
<text transform="scale(0.8,1)" x="822.50" y="237.0" font-size="23.5" textLength="10.62" lengthAdjust="spacing">8</text>
<text transform="scale(0.8,1)" x="860.75" y="237.0" font-size="23.5" textLength="151.38" lengthAdjust="spacing">Болт M12x35</text>
<text transform="scale(0.8,1)" x="1304.38" y="237.0" font-size="23.5" textLength="11.25" lengthAdjust="spacing">4</text>
<text transform="scale(0.8,1)" x="822.50" y="262.0" font-size="23.5" textLength="10.62" lengthAdjust="spacing">9</text>
<text transform="scale(0.8,1)" x="860.75" y="262.0" font-size="23.5" textLength="153.75" lengthAdjust="spacing">Болт M12x70</text>
<text transform="scale(0.8,1)" x="1304.38" y="262.0" font-size="23.5" textLength="11.25" lengthAdjust="spacing">2</text>
<text transform="scale(0.8,1)" x="815.94" y="287.0" font-size="23.5" textLength="23.75" lengthAdjust="spacing">10</text>
<text transform="scale(0.8,1)" x="860.75" y="287.0" font-size="23.5" textLength="239.38" lengthAdjust="spacing">Болт M22x1,5x55-65</text>
<text transform="scale(0.8,1)" x="1304.38" y="287.0" font-size="23.5" textLength="11.25" lengthAdjust="spacing">2</text>
<text transform="scale(0.8,1)" x="815.94" y="312.0" font-size="23.5" textLength="23.75" lengthAdjust="spacing">11</text>
<text transform="scale(0.8,1)" x="860.75" y="312.0" font-size="23.5" textLength="121.12" lengthAdjust="spacing">Гайка M10</text>
<text transform="scale(0.8,1)" x="1304.38" y="312.0" font-size="23.5" textLength="11.25" lengthAdjust="spacing">4</text>
<text transform="scale(0.8,1)" x="815.94" y="337.0" font-size="23.5" textLength="23.75" lengthAdjust="spacing">12</text>
<text transform="scale(0.8,1)" x="860.75" y="337.0" font-size="23.5" textLength="231.00" lengthAdjust="spacing">Гайка M12(с.контр.)</text>
<text transform="scale(0.8,1)" x="1304.38" y="337.0" font-size="23.5" textLength="11.25" lengthAdjust="spacing">4</text>
<text transform="scale(0.8,1)" x="815.94" y="362.0" font-size="23.5" textLength="23.75" lengthAdjust="spacing">13</text>
<text transform="scale(0.8,1)" x="860.75" y="362.0" font-size="23.5" textLength="135.13" lengthAdjust="spacing">Гровер d 10</text>
<text transform="scale(0.8,1)" x="1304.38" y="362.0" font-size="23.5" textLength="11.25" lengthAdjust="spacing">4</text>
<text transform="scale(0.8,1)" x="815.94" y="387.0" font-size="23.5" textLength="23.75" lengthAdjust="spacing">14</text>
<text transform="scale(0.8,1)" x="860.75" y="387.0" font-size="23.5" textLength="135.13" lengthAdjust="spacing">Гровер d 12</text>
<text transform="scale(0.8,1)" x="1304.38" y="387.0" font-size="23.5" textLength="11.25" lengthAdjust="spacing">2</text>
<text transform="scale(0.8,1)" x="815.94" y="412.0" font-size="23.5" textLength="23.75" lengthAdjust="spacing">15</text>
<text transform="scale(0.8,1)" x="860.75" y="412.0" font-size="23.5" textLength="139.62" lengthAdjust="spacing">Гровер d 22</text>
<text transform="scale(0.8,1)" x="1304.38" y="412.0" font-size="23.5" textLength="11.25" lengthAdjust="spacing">2</text>
<text transform="scale(0.8,1)" x="815.94" y="437.0" font-size="23.5" textLength="23.75" lengthAdjust="spacing">16</text>
<text transform="scale(0.8,1)" x="860.75" y="437.0" font-size="23.5" textLength="130.13" lengthAdjust="spacing">Шайба d 10</text>
<text transform="scale(0.8,1)" x="1304.38" y="437.0" font-size="23.5" textLength="11.25" lengthAdjust="spacing">4</text>
<text transform="scale(0.8,1)" x="815.94" y="462.0" font-size="23.5" textLength="23.75" lengthAdjust="spacing">17</text>
<text transform="scale(0.8,1)" x="860.75" y="462.0" font-size="23.5" textLength="277.75" lengthAdjust="spacing">Шайба d10 увеличенная</text>
<text transform="scale(0.8,1)" x="1304.38" y="462.0" font-size="23.5" textLength="11.25" lengthAdjust="spacing">4</text>
<text transform="scale(0.8,1)" x="815.94" y="487.0" font-size="23.5" textLength="23.75" lengthAdjust="spacing">18</text>
<text transform="scale(0.8,1)" x="860.75" y="487.0" font-size="23.5" textLength="130.13" lengthAdjust="spacing">Шайба d 12</text>
<text transform="scale(0.8,1)" x="1304.38" y="487.0" font-size="23.5" textLength="11.25" lengthAdjust="spacing">9</text>
<text transform="scale(0.8,1)" x="815.94" y="512.0" font-size="23.5" textLength="23.75" lengthAdjust="spacing">19</text>
<text transform="scale(0.8,1)" x="860.75" y="512.0" font-size="23.5" textLength="127.25" lengthAdjust="spacing">Шайба d22</text>
<text transform="scale(0.8,1)" x="1304.38" y="512.0" font-size="23.5" textLength="11.25" lengthAdjust="spacing">2</text>
</g>
<g font-family="Liberation Sans" fill="#000">
<text transform="scale(0.68,1)" x="522.06" y="67.9" font-size="35.7" textLength="330.15" lengthAdjust="spacing">ТСУ ”T–VAZ–46A”</text>
<text transform="scale(0.7,1)" x="540.00" y="103.4" font-size="33.5" textLength="256.57" lengthAdjust="spacing">Схема сборки</text>
</g>
</svg>
</body></html>
